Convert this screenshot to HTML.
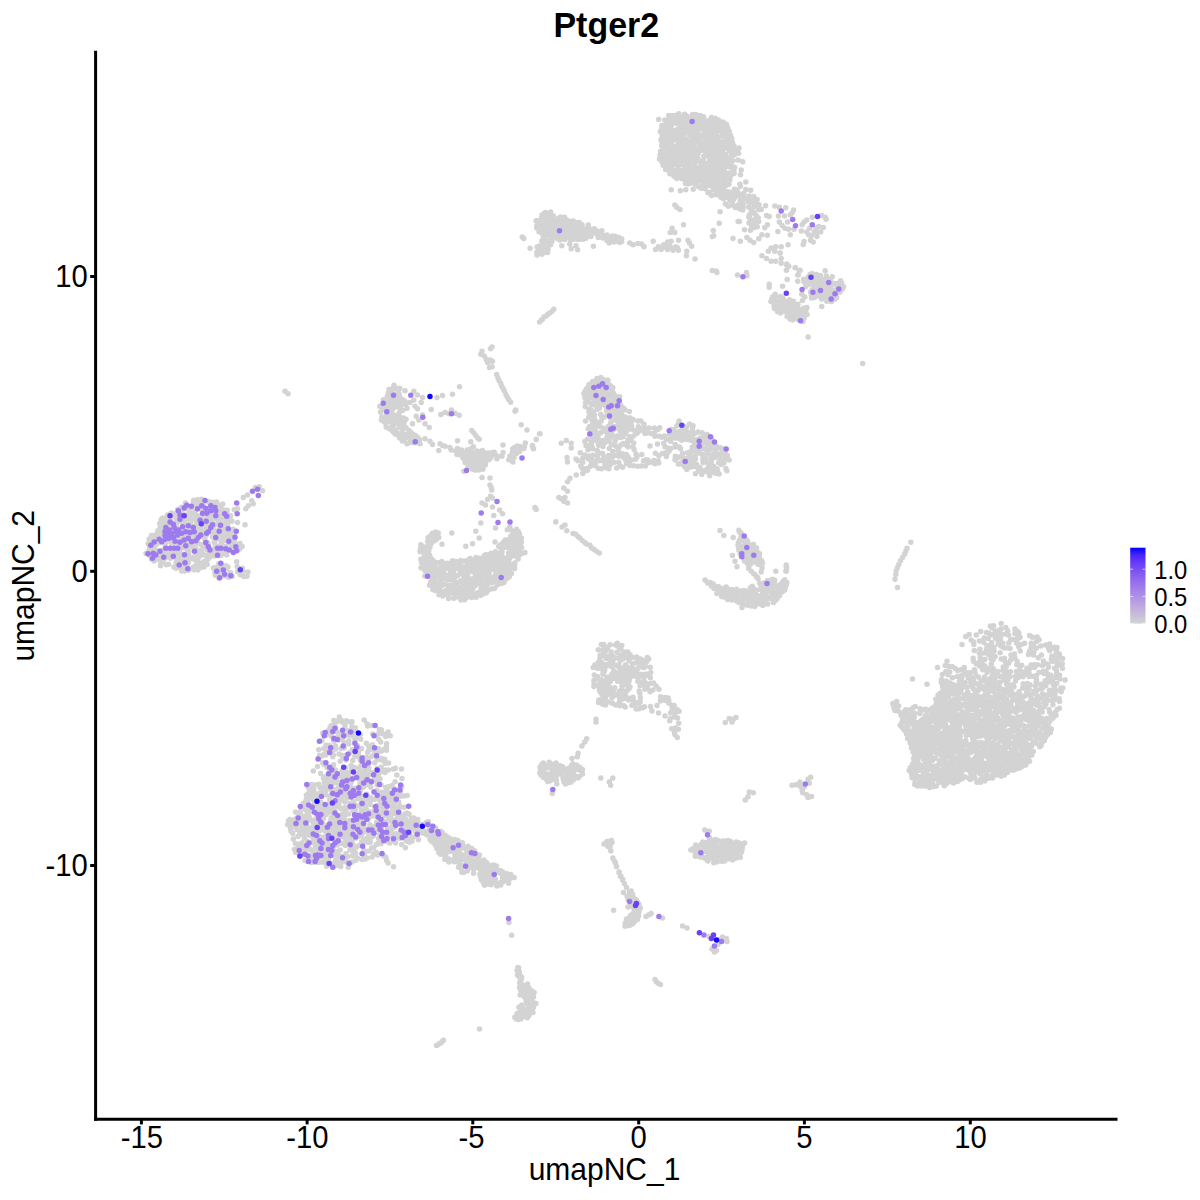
<!DOCTYPE html>
<html>
<head>
<meta charset="utf-8">
<title>Ptger2</title>
<style>
html,body{margin:0;padding:0;background:#ffffff;}
body{width:1200px;height:1200px;overflow:hidden;}
svg{display:block;}
text{font-family:"Liberation Sans",sans-serif;fill:#000;}
</style>
</head>
<body>
<svg width="1200" height="1200" viewBox="0 0 1200 1200">
<rect x="0" y="0" width="1200" height="1200" fill="#ffffff"/>
<defs>
<linearGradient id="cb" x1="0" y1="1" x2="0" y2="0">
<stop offset="0" stop-color="#d3d3d3"/>
<stop offset="0.2" stop-color="#c1aede"/>
<stop offset="0.4" stop-color="#aa89e7"/>
<stop offset="0.6" stop-color="#8e65f0"/>
<stop offset="0.8" stop-color="#673df8"/>
<stop offset="0.9" stop-color="#4926fb"/>
<stop offset="1" stop-color="#0000ff"/>
</linearGradient>
</defs>
<path d="M177.7 509.4h0M209.8 503.6h0M198.5 525.2h0M151.5 535.5h0M187.6 559.0h0M202.6 527.4h0M230.2 519.6h0M176.2 558.2h0M163.6 541.0h0M208.7 525.6h0M199.7 502.9h0M212.7 529.7h0M176.7 541.3h0M190.4 520.3h0M223.9 549.6h0M169.8 540.5h0M197.5 562.5h0M217.6 519.4h0M186.9 553.9h0M160.8 534.2h0M149.7 547.3h0M221.0 540.4h0M231.9 521.3h0M214.2 541.9h0M202.9 531.8h0M192.5 547.0h0M151.8 549.8h0M226.7 519.2h0M183.8 547.4h0M151.6 554.7h0M184.3 562.2h0M199.9 563.1h0M173.2 528.8h0M181.1 563.2h0M168.8 533.9h0M203.8 517.6h0M182.1 539.9h0M239.6 549.0h0M196.5 543.6h0M212.3 502.3h0M184.4 527.6h0M156.0 544.8h0M206.2 509.2h0M170.6 523.8h0M181.6 507.3h0M191.7 533.8h0M179.5 517.7h0M227.3 510.2h0M197.8 509.1h0M199.2 500.3h0M197.8 570.1h0M230.7 549.4h0M162.3 554.9h0M198.2 555.5h0M178.3 514.7h0M226.3 552.6h0M168.1 536.3h0M171.3 549.1h0M167.5 515.0h0M207.2 564.4h0M228.5 533.5h0M210.0 557.0h0M154.2 546.8h0M219.6 533.4h0M178.5 557.1h0M185.3 567.8h0M217.1 510.8h0M160.2 558.9h0M242.2 546.5h0M180.3 538.6h0M197.6 566.8h0M188.5 562.3h0M227.1 513.8h0M170.6 519.8h0M180.6 531.9h0M203.2 564.6h0M187.2 565.6h0M195.2 537.3h0M197.3 499.7h0M189.1 511.8h0M162.8 533.1h0M217.1 539.1h0M177.9 536.3h0M200.5 555.8h0M156.3 539.4h0M221.8 535.6h0M206.1 535.4h0M196.2 549.1h0M190.3 537.4h0M192.8 567.4h0M200.9 567.5h0M157.8 530.8h0M161.0 550.8h0M210.8 508.8h0M185.0 534.1h0M161.7 530.0h0M196.5 523.2h0M165.1 521.7h0M200.3 530.6h0M149.7 555.5h0M160.5 565.7h0M201.9 549.7h0M154.1 561.1h0M190.5 523.2h0M197.6 515.8h0M176.5 520.7h0M220.5 519.6h0M195.0 511.4h0M226.4 530.0h0M194.5 559.5h0M179.5 559.4h0M215.3 545.0h0M185.6 523.8h0M152.8 552.7h0M231.4 547.5h0M173.6 516.1h0M174.7 532.0h0M176.3 524.5h0M165.6 535.3h0M175.8 515.4h0M203.4 537.1h0M219.6 546.6h0M184.1 522.2h0M233.5 544.3h0M159.5 536.7h0M213.0 549.2h0M156.2 559.6h0M200.8 544.4h0M207.4 548.2h0M224.3 553.2h0M218.3 516.8h0M217.6 513.4h0M194.4 526.4h0M221.3 543.6h0M201.7 499.2h0M212.3 519.7h0M196.6 532.4h0M191.7 507.0h0M190.0 518.0h0M166.6 541.0h0M226.5 535.6h0M233.0 549.9h0M168.6 564.2h0M193.6 500.2h0M159.7 523.6h0M146.0 553.4h0M236.9 550.6h0M182.4 527.1h0M181.3 529.7h0M173.9 566.9h0M170.4 517.8h0M182.5 568.5h0M216.6 502.0h0M217.8 531.4h0M175.1 552.5h0M210.3 520.4h0M166.3 564.8h0M194.7 514.5h0M190.1 508.6h0M219.5 528.6h0M186.5 536.8h0M185.1 531.0h0M149.0 550.4h0M233.9 533.0h0M209.5 554.4h0M197.4 541.1h0M184.0 514.7h0M240.1 545.6h0M187.1 517.2h0M179.1 529.2h0M213.0 512.9h0M167.6 554.1h0M167.8 528.9h0M160.2 527.2h0M211.2 526.1h0M173.3 524.1h0M182.5 565.8h0M164.8 525.0h0M240.0 543.6h0M177.0 518.5h0M236.0 544.8h0M183.8 516.7h0M188.1 534.5h0M226.7 555.0h0M205.5 522.4h0M222.8 504.1h0M165.2 553.5h0M149.2 538.9h0M155.3 534.9h0M215.6 531.1h0M201.6 525.7h0M160.9 563.2h0M202.7 522.3h0M184.8 571.1h0M225.3 546.2h0M192.5 558.4h0M231.0 531.3h0M171.4 555.4h0M204.5 543.8h0M167.2 525.4h0M170.9 542.3h0M209.9 513.3h0M176.5 513.2h0M224.0 538.5h0M184.7 538.7h0M186.1 519.1h0M176.1 568.2h0M181.6 512.8h0M182.3 535.3h0M193.3 502.2h0M223.1 514.6h0M185.6 560.4h0M196.8 526.5h0M204.8 538.7h0M207.5 520.8h0M187.1 541.1h0M187.7 546.6h0M189.8 530.5h0M148.1 543.7h0M220.9 555.5h0M196.0 501.3h0M218.0 555.4h0M220.2 510.0h0M195.2 565.8h0M166.3 517.6h0M157.1 537.3h0M231.7 539.0h0M224.3 517.7h0M181.3 554.4h0M226.4 516.9h0M203.4 547.0h0M206.4 530.0h0M203.8 513.3h0M207.2 533.2h0M209.3 530.9h0M165.5 542.9h0M178.8 553.3h0M215.8 517.8h0M171.9 545.4h0M171.4 515.6h0M219.2 522.3h0M188.8 551.5h0M179.7 508.7h0M214.4 552.4h0M152.3 541.6h0M181.6 558.3h0M208.2 558.8h0M220.3 513.4h0M173.6 550.8h0M182.0 521.9h0M229.6 543.7h0M188.8 555.0h0M179.9 550.0h0M194.2 556.8h0M173.7 514.1h0M214.6 534.9h0M153.8 556.1h0M214.4 556.0h0M234.5 535.1h0M210.9 552.7h0M165.1 545.1h0M185.1 556.3h0M159.8 542.6h0M202.3 553.3h0M187.2 515.1h0M221.9 549.7h0M176.6 544.4h0M207.7 516.7h0M187.5 531.7h0M222.4 526.8h0M194.0 569.8h0M199.0 550.9h0M166.5 548.5h0M184.4 554.3h0M187.2 549.5h0M167.4 557.1h0M158.5 555.3h0M192.0 539.6h0M180.6 545.2h0M199.7 507.5h0M227.8 524.3h0M151.4 559.0h0M210.3 516.7h0M205.7 555.6h0M198.0 552.7h0M200.4 517.7h0M194.2 534.9h0M208.5 545.0h0M179.1 561.5h0M187.4 539.0h0M227.2 527.9h0M195.4 518.3h0M178.4 521.6h0M206.5 544.3h0M211.4 531.9h0M220.8 505.8h0M175.5 529.3h0M151.2 540.0h0M225.5 540.5h0M204.0 567.1h0M186.4 505.8h0M217.6 504.5h0M207.6 550.3h0M162.2 561.5h0M160.1 556.8h0M201.6 519.8h0M178.5 542.8h0M191.6 513.5h0M170.9 553.4h0M223.7 532.0h0M232.9 536.6h0M192.7 541.6h0M163.6 549.7h0M223.3 509.8h0M231.0 534.0h0M222.5 529.6h0M204.6 527.5h0M177.1 564.6h0M192.8 519.3h0M171.2 513.1h0M181.7 571.0h0M225.2 523.3h0M164.1 530.3h0M202.0 508.5h0M164.1 559.3h0M181.9 510.3h0M182.3 542.0h0M157.7 550.7h0M177.4 550.5h0M170.5 558.3h0M214.9 505.9h0M185.7 508.4h0M204.0 561.5h0M160.3 540.3h0M228.4 536.9h0M222.2 523.2h0M188.7 570.3h0M170.3 529.3h0M238.0 544.8h0M197.0 530.1h0M157.7 541.9h0M172.2 532.5h0M154.5 538.4h0M165.6 550.4h0M230.6 515.8h0M200.6 534.4h0M174.9 555.0h0M180.5 547.9h0M206.4 560.7h0M218.5 552.8h0M195.0 530.9h0M203.0 504.8h0M213.2 526.9h0M180.4 567.8h0M212.4 536.9h0M202.3 562.9h0M189.1 544.1h0M198.0 558.2h0M162.6 521.7h0M196.2 506.4h0M233.2 529.2h0M161.2 519.6h0M196.1 535.4h0M207.8 542.6h0M208.4 501.4h0M176.0 549.0h0M228.6 541.3h0M216.2 524.3h0M162.5 517.9h0M190.1 526.6h0M169.7 526.9h0M176.2 562.5h0M185.5 503.1h0M164.6 519.1h0M211.2 523.4h0M234.3 541.4h0M220.9 564.0h0M219.5 574.3h0M214.9 572.5h0M220.3 571.4h0M218.9 563.7h0M219.2 566.5h0M215.2 575.3h0M218.6 569.7h0M232.2 576.3h0M215.4 567.4h0M226.9 568.8h0M226.1 565.7h0M228.4 575.2h0M213.4 568.0h0M230.7 572.7h0M228.0 567.0h0M221.9 574.7h0M228.7 577.3h0M218.2 572.2h0M224.3 567.0h0M221.4 566.1h0M223.7 570.4h0M219.0 578.3h0M224.4 576.1h0M248.0 571.9h0M243.9 576.5h0M237.6 571.8h0M247.0 576.3h0M240.2 570.4h0M240.2 574.8h0M243.0 571.6h0M237.2 566.4h0M242.3 568.3h0M243.3 497.5h0M247.5 495.0h0M262.5 490.8h0M259.2 486.7h0M251.7 500.8h0M253.3 503.7h0M248.3 505.8h0M245.8 508.8h0M237.5 508.8h0M234.2 509.7h0M237.5 522.5h0M245.0 524.7h0M255.3 487.5h0M236.7 561.7h0M355.0 815.2h0M335.7 851.2h0M313.9 820.0h0M299.3 817.2h0M369.1 780.3h0M366.9 777.3h0M312.8 851.9h0M303.1 847.7h0M322.8 791.3h0M319.2 803.9h0M359.6 806.3h0M344.8 728.4h0M388.0 831.8h0M301.7 842.9h0M311.5 862.5h0M320.7 773.6h0M371.0 749.6h0M311.0 830.1h0M394.9 820.3h0M417.7 819.4h0M314.5 784.9h0M363.2 821.6h0M410.3 838.4h0M313.0 841.1h0M342.6 789.3h0M317.8 852.5h0M338.2 788.1h0M342.0 770.8h0M368.9 767.8h0M381.8 758.6h0M396.4 813.1h0M336.7 800.6h0M332.9 866.8h0M339.1 754.1h0M336.5 737.8h0M350.1 803.3h0M365.0 859.1h0M337.6 834.5h0M355.6 853.3h0M386.5 750.3h0M333.4 830.7h0M344.4 820.0h0M334.4 792.1h0M323.5 787.4h0M373.8 826.8h0M307.4 833.4h0M370.2 801.3h0M323.6 824.9h0M379.6 834.4h0M338.8 739.9h0M302.5 828.2h0M375.7 751.2h0M324.3 782.9h0M316.0 832.1h0M325.0 831.0h0M327.1 767.5h0M383.5 807.7h0M368.9 850.9h0M308.6 828.6h0M311.1 820.6h0M335.2 856.2h0M398.9 821.6h0M358.4 752.4h0M356.0 737.9h0M391.3 793.1h0M411.7 827.9h0M359.0 779.1h0M379.3 799.6h0M410.4 825.9h0M341.8 775.6h0M373.4 774.3h0M294.3 822.3h0M320.3 812.5h0M340.7 825.0h0M361.4 810.0h0M332.7 812.4h0M318.8 810.0h0M389.0 796.3h0M361.8 796.6h0M341.0 843.2h0M322.8 732.9h0M400.5 796.2h0M350.6 789.7h0M341.0 720.0h0M367.7 726.1h0M398.9 810.8h0M344.8 815.4h0M337.0 775.6h0M424.1 825.0h0M381.1 767.2h0M370.8 787.3h0M354.0 852.0h0M356.5 794.7h0M381.7 829.3h0M293.0 820.1h0M395.7 833.8h0M299.8 831.3h0M295.1 820.3h0M324.3 764.7h0M330.2 848.4h0M362.9 773.9h0M356.2 805.6h0M362.4 779.2h0M328.4 824.8h0M350.0 850.1h0M348.4 814.0h0M366.3 838.4h0M382.2 819.4h0M317.1 844.1h0M414.9 821.1h0M342.5 722.3h0M357.3 858.0h0M355.6 848.0h0M319.3 857.2h0M335.8 860.2h0M312.5 836.5h0M398.3 807.4h0M301.0 815.2h0M368.7 770.7h0M380.7 742.1h0M355.0 739.9h0M357.2 798.4h0M358.7 772.8h0M344.2 748.1h0M321.1 849.1h0M319.6 830.8h0M342.7 795.7h0M397.7 824.8h0M384.8 840.5h0M345.4 778.9h0M321.8 828.3h0M354.9 792.5h0M415.2 831.0h0M315.4 811.9h0M388.4 770.1h0M400.3 806.6h0M329.4 862.7h0M322.8 844.1h0M397.7 837.4h0M351.8 768.1h0M337.1 845.1h0M328.5 730.6h0M380.4 839.4h0M325.6 862.2h0M314.0 843.0h0M312.0 860.2h0M349.9 862.2h0M380.4 812.9h0M295.4 843.6h0M365.8 785.0h0M370.1 804.6h0M342.6 830.4h0M326.9 832.6h0M340.9 863.0h0M384.6 759.3h0M331.3 725.4h0M332.5 783.6h0M316.1 854.8h0M405.2 813.7h0M353.6 801.8h0M338.4 856.1h0M327.9 812.6h0M364.6 831.3h0M345.5 839.5h0M376.6 822.0h0M335.0 727.3h0M325.9 845.1h0M381.9 831.4h0M386.5 823.8h0M297.5 844.2h0M334.0 803.3h0M405.5 839.6h0M389.4 805.8h0M383.5 824.5h0M335.5 746.1h0M360.0 783.7h0M386.4 747.1h0M416.9 826.6h0M389.0 812.6h0M337.4 853.3h0M351.4 732.8h0M309.0 834.9h0M366.7 794.2h0M401.7 844.6h0M369.8 774.6h0M404.3 836.2h0M321.6 854.3h0M302.0 806.7h0M377.0 824.3h0M296.8 826.9h0M353.6 777.9h0M378.8 822.0h0M307.3 854.8h0M342.6 836.5h0M376.6 829.5h0M365.6 841.5h0M374.6 807.3h0M364.2 761.3h0M401.6 786.6h0M378.9 748.7h0M364.2 770.6h0M351.5 778.9h0M405.2 825.7h0M329.7 770.0h0M418.6 832.6h0M325.9 755.1h0M333.6 833.8h0M412.6 837.5h0M362.1 815.6h0M327.8 854.4h0M384.1 821.8h0M384.7 749.0h0M370.6 816.6h0M385.2 763.3h0M330.0 779.2h0M350.0 827.5h0M314.1 854.2h0M380.2 806.1h0M341.3 816.0h0M338.5 826.6h0M338.9 796.4h0M322.3 837.7h0M341.0 833.0h0M353.8 848.9h0M380.8 843.8h0M349.3 735.2h0M324.7 857.1h0M351.1 765.4h0M380.7 772.0h0M379.3 795.2h0M353.6 829.3h0M320.3 792.8h0M332.7 778.9h0M310.9 805.9h0M325.2 859.8h0M321.7 816.9h0M298.0 853.1h0M312.9 822.0h0M391.7 811.7h0M354.3 819.9h0M318.7 749.8h0M344.5 781.0h0M348.9 743.9h0M289.8 819.6h0M323.4 841.6h0M370.3 747.3h0M362.7 827.1h0M360.9 765.8h0M354.8 756.4h0M300.2 811.7h0M324.4 837.1h0M399.6 838.6h0M376.6 753.8h0M347.0 798.0h0M291.7 826.9h0M373.9 853.7h0M331.2 817.5h0M358.7 796.2h0M381.5 750.9h0M354.5 825.1h0M377.0 759.5h0M374.6 762.7h0M393.1 833.9h0M310.4 797.8h0M395.1 781.7h0M328.0 787.7h0M314.6 862.3h0M322.2 755.9h0M406.8 841.2h0M338.9 774.0h0M340.6 734.0h0M321.7 856.4h0M393.6 840.3h0M419.5 829.9h0M296.9 829.4h0M376.4 852.6h0M414.0 828.3h0M360.4 790.5h0M411.3 818.0h0M348.2 825.8h0M348.4 774.9h0M313.6 800.0h0M307.6 812.8h0M347.0 808.4h0M326.2 780.9h0M353.3 731.3h0M335.2 825.8h0M315.8 805.9h0M392.8 825.0h0M349.7 730.4h0M345.1 810.8h0M331.8 793.6h0M355.8 860.2h0M344.1 770.9h0M336.9 821.8h0M308.8 848.1h0M407.3 837.0h0M364.7 778.2h0M303.6 853.1h0M354.5 767.6h0M373.1 836.2h0M339.5 776.0h0M324.5 828.3h0M364.9 856.8h0M338.1 865.4h0M342.4 755.6h0M386.7 743.8h0M349.2 836.9h0M400.3 836.2h0M331.9 774.3h0M324.3 809.7h0M299.6 834.9h0M390.2 815.4h0M356.9 826.5h0M379.5 759.4h0M351.6 847.9h0M304.0 830.6h0M377.0 774.3h0M352.8 788.3h0M313.5 793.0h0M310.4 858.0h0M400.8 820.5h0M320.0 787.4h0M344.4 742.7h0M339.1 801.1h0M341.6 800.1h0M316.3 794.1h0M405.2 818.5h0M345.9 853.8h0M332.9 863.5h0M375.1 816.2h0M389.6 800.7h0M308.4 806.3h0M309.9 793.4h0M366.3 779.7h0M318.6 818.7h0M372.4 744.7h0M321.8 740.7h0M333.0 854.9h0M304.6 845.5h0M309.4 811.9h0M358.7 768.0h0M358.1 791.2h0M381.7 792.3h0M328.4 858.6h0M305.2 821.0h0M293.7 825.5h0M388.3 734.8h0M315.0 795.8h0M358.2 793.5h0M397.3 795.6h0M340.2 761.3h0M387.1 841.1h0M351.0 771.5h0M338.0 831.5h0M397.8 816.3h0M325.3 791.0h0M349.2 777.4h0M383.0 811.8h0M378.1 808.4h0M352.4 749.5h0M339.3 782.8h0M334.6 810.3h0M346.1 862.0h0M381.0 784.8h0M320.1 836.8h0M318.3 862.6h0M355.4 810.6h0M330.8 820.0h0M318.6 784.3h0M367.1 831.2h0M403.1 816.1h0M403.9 796.1h0M404.3 821.5h0M375.2 735.6h0M373.6 847.7h0M385.8 787.5h0M326.9 830.0h0M322.2 822.4h0M339.2 794.4h0M291.1 831.3h0M380.0 778.7h0M309.0 856.2h0M358.7 836.4h0M376.8 790.3h0M368.8 750.3h0M372.0 812.0h0M345.3 794.4h0M318.5 848.4h0M368.7 746.1h0M363.1 783.8h0M292.7 833.4h0M330.5 827.3h0M368.0 815.4h0M364.9 828.2h0M322.6 762.7h0M339.7 836.6h0M302.6 822.8h0M395.6 843.0h0M380.4 802.0h0M376.3 844.8h0M387.7 827.5h0M377.8 816.7h0M333.1 807.7h0M305.4 818.7h0M364.2 839.5h0M341.3 783.2h0M378.3 843.2h0M349.4 832.7h0M308.8 795.9h0M320.9 802.2h0M369.9 824.8h0M340.2 736.5h0M346.0 755.4h0M371.5 847.9h0M296.3 822.2h0M357.3 745.6h0M327.0 805.9h0M326.0 814.5h0M400.2 792.3h0M298.5 847.9h0M352.5 825.3h0M380.4 733.1h0M352.9 844.2h0M325.0 777.0h0M319.5 755.6h0M301.4 824.7h0M358.3 754.6h0M363.4 757.5h0M314.3 824.5h0M350.1 787.2h0M399.0 812.9h0M340.2 791.7h0M394.5 810.6h0M354.7 813.3h0M386.6 860.5h0M332.5 849.9h0M378.6 838.4h0M322.1 795.4h0M336.1 838.8h0M333.7 740.9h0M330.1 823.3h0M304.5 838.5h0M307.5 841.4h0M317.9 859.4h0M409.5 842.3h0M304.5 835.1h0M330.5 732.2h0M381.4 730.0h0M345.0 785.3h0M387.9 836.0h0M385.8 736.6h0M317.5 766.5h0M409.0 813.9h0M358.0 833.6h0M348.2 867.2h0M327.9 784.8h0M393.3 788.2h0M315.0 838.3h0M336.8 780.6h0M363.8 781.7h0M296.7 818.3h0M340.9 856.3h0M379.5 751.3h0M350.1 752.6h0M382.0 797.9h0M319.8 844.8h0M388.6 762.9h0M340.7 866.5h0M364.1 776.1h0M323.8 818.0h0M377.0 784.4h0M371.5 827.5h0M336.4 827.7h0M311.7 828.0h0M392.9 822.5h0M332.5 747.3h0M325.7 749.4h0M322.6 804.8h0M330.3 796.9h0M398.8 802.3h0M357.5 817.9h0M325.9 735.1h0M392.9 808.2h0M329.7 799.8h0M349.1 807.3h0M413.8 817.9h0M405.8 828.0h0M385.3 791.9h0M305.8 849.8h0M333.6 764.7h0M390.1 832.1h0M365.5 807.4h0M393.9 803.9h0M347.3 781.1h0M366.3 772.0h0M295.6 852.3h0M399.5 788.4h0M388.1 786.8h0M401.3 818.0h0M390.2 735.7h0M349.2 840.3h0M372.7 734.1h0M375.1 813.8h0M366.3 743.2h0M334.1 777.1h0M347.3 856.7h0M361.5 748.6h0M334.7 820.4h0M287.7 824.8h0M317.1 841.8h0M333.4 754.9h0M361.7 841.7h0M393.4 768.9h0M307.5 808.4h0M407.2 821.5h0M384.0 837.4h0M309.2 817.0h0M344.0 736.5h0M365.0 800.8h0M352.2 840.1h0M408.7 832.3h0M300.0 856.4h0M362.2 833.8h0M355.9 838.1h0M411.5 820.9h0M413.7 825.3h0M332.7 756.8h0M422.0 827.2h0M352.7 760.6h0M353.0 810.5h0M370.3 842.2h0M339.0 805.3h0M387.1 816.0h0M385.4 770.0h0M344.9 801.9h0M315.4 847.2h0M363.0 804.3h0M370.6 782.2h0M371.7 772.5h0M313.5 787.5h0M365.7 767.0h0M342.5 859.3h0M330.5 789.4h0M374.6 799.3h0M329.4 809.5h0M361.1 781.0h0M416.6 828.6h0M335.3 770.1h0M300.4 844.7h0M345.8 834.0h0M357.2 823.5h0M395.4 768.2h0M330.9 845.6h0M331.2 736.0h0M316.3 826.5h0M342.9 758.0h0M377.1 805.8h0M341.2 748.4h0M323.9 754.2h0M375.8 811.1h0M368.2 819.2h0M316.9 798.2h0M370.6 797.4h0M321.2 806.4h0M387.3 791.3h0M337.7 721.2h0M362.3 764.0h0M355.5 728.0h0M362.0 776.1h0M318.7 758.3h0M317.0 837.7h0M310.4 849.6h0M355.0 788.2h0M294.4 849.2h0M307.2 825.9h0M326.7 866.3h0M360.0 798.9h0M369.0 784.8h0M305.6 809.7h0M366.5 809.4h0M360.2 734.6h0M379.3 729.4h0M337.6 863.1h0M297.4 812.9h0M349.5 820.6h0M360.2 759.9h0M401.5 769.0h0M409.2 823.9h0M308.4 787.5h0M298.8 823.8h0M333.3 817.5h0M309.6 790.5h0M409.8 834.9h0M386.4 811.2h0M359.3 824.7h0M400.7 815.8h0M364.1 850.4h0M357.4 756.5h0M326.3 795.1h0M378.3 776.2h0M333.2 847.2h0M362.4 812.7h0M352.1 862.1h0M307.9 794.0h0M378.8 739.4h0M346.7 831.6h0M306.0 800.3h0M329.6 782.8h0M345.3 824.4h0M379.2 782.2h0M307.7 820.5h0M316.8 815.3h0M333.2 729.4h0M313.7 858.5h0M340.6 808.5h0M318.2 823.4h0M394.9 808.1h0M306.2 831.3h0M345.1 807.5h0M363.3 787.2h0M337.1 732.1h0M313.2 830.6h0M334.6 795.1h0M342.5 780.8h0M407.2 795.6h0M330.5 854.1h0M346.0 760.1h0M362.0 818.2h0M339.0 861.3h0M366.9 797.0h0M332.5 750.6h0M368.1 842.4h0M329.7 831.1h0M333.7 789.5h0M323.9 748.5h0M390.8 818.7h0M353.2 729.1h0M383.2 734.0h0M322.5 862.2h0M392.9 837.5h0M358.6 845.8h0M326.0 745.2h0M330.1 727.4h0M293.3 839.0h0M393.7 798.0h0M331.5 770.9h0M385.9 857.2h0M340.2 850.0h0M416.4 833.2h0M339.3 718.4h0M305.9 816.1h0M401.7 830.6h0M416.9 836.7h0M334.7 723.7h0M388.5 820.8h0M345.6 768.0h0M360.0 829.9h0M303.3 803.6h0M377.6 854.9h0M335.6 748.9h0M346.3 720.8h0M372.4 756.1h0M353.2 736.2h0M377.0 768.6h0M361.4 802.6h0M385.2 800.3h0M352.0 726.8h0M336.9 796.5h0M344.5 792.3h0M393.4 795.8h0M372.9 830.1h0M392.0 785.6h0M366.1 757.4h0M350.9 782.7h0M383.3 855.7h0M361.1 835.7h0M327.6 776.7h0M352.0 721.7h0M334.8 815.6h0M384.2 795.7h0M351.4 792.6h0M319.7 822.0h0M328.7 804.8h0M311.4 784.6h0M290.6 828.8h0M374.7 772.7h0M347.6 784.2h0M353.4 846.6h0M361.5 771.1h0M404.4 832.5h0M354.3 790.6h0M340.2 819.2h0M396.9 775.0h0M366.6 829.2h0M389.7 843.1h0M346.5 772.8h0M345.4 845.6h0M366.1 814.5h0M322.6 846.2h0M365.0 805.1h0M364.6 854.5h0M375.1 779.7h0M361.8 859.5h0M337.2 818.6h0M417.7 821.8h0M345.0 725.8h0M393.4 813.7h0M359.3 816.5h0M343.3 843.9h0M335.9 782.8h0M313.8 789.6h0M368.8 834.3h0M388.9 829.9h0M419.3 826.3h0M301.3 821.0h0M402.5 824.0h0M391.6 829.2h0M310.8 787.4h0M348.8 794.7h0M348.4 733.3h0M328.3 860.8h0M297.9 836.5h0M327.3 843.5h0M340.3 821.9h0M384.2 832.5h0M384.1 815.2h0M305.0 860.4h0M392.9 799.8h0M303.8 817.0h0M374.4 754.2h0M367.2 723.9h0M352.3 855.8h0M290.9 821.9h0M361.8 844.4h0M324.8 853.9h0M370.0 839.1h0M360.7 739.3h0M374.7 777.2h0M333.8 720.5h0M344.7 775.0h0M402.0 778.6h0M371.8 725.6h0M327.8 850.6h0M323.5 778.3h0M337.3 793.5h0M367.6 752.4h0M332.9 821.7h0M353.1 836.4h0M329.2 745.6h0M349.9 722.0h0M369.1 758.3h0M368.2 811.7h0M396.7 789.9h0M337.7 840.9h0M342.4 813.9h0M404.3 807.3h0M345.2 734.7h0M354.0 804.0h0M407.2 813.0h0M347.3 841.7h0M358.5 820.7h0M310.8 808.3h0M313.3 826.3h0M304.8 806.6h0M391.2 821.1h0M307.0 861.2h0M348.8 740.8h0M356.4 775.9h0M345.0 788.4h0M378.3 734.0h0M319.6 840.1h0M342.3 739.7h0M395.7 796.7h0M305.0 825.8h0M367.0 857.9h0M371.2 834.6h0M394.8 827.3h0M373.0 780.4h0M400.0 832.4h0M310.3 832.6h0M324.3 849.0h0M362.5 800.5h0M323.8 813.1h0M336.9 805.9h0M372.5 799.3h0M308.1 799.9h0M306.5 796.1h0M372.1 857.0h0M384.8 803.2h0M385.0 772.5h0M382.9 760.6h0M314.4 803.7h0M329.2 773.6h0M439.0 834.4h0M430.0 839.2h0M432.8 837.0h0M460.1 849.0h0M485.3 872.3h0M429.6 834.6h0M426.9 834.7h0M460.4 860.8h0M490.5 865.4h0M462.3 842.7h0M476.5 864.5h0M466.8 853.0h0M483.8 860.1h0M466.6 858.4h0M465.8 865.2h0M487.9 871.5h0M448.5 846.5h0M488.9 877.4h0M449.6 851.5h0M506.4 873.5h0M483.5 880.6h0M437.0 837.3h0M463.0 854.9h0M453.8 844.0h0M494.9 882.3h0M463.5 858.2h0M493.7 875.3h0M486.4 874.0h0M494.5 869.3h0M498.2 884.5h0M458.6 867.2h0M441.8 851.6h0M457.8 850.4h0M459.5 845.7h0M479.9 873.9h0M472.1 865.0h0M470.8 867.0h0M470.9 853.4h0M459.0 843.1h0M474.5 850.8h0M506.8 880.3h0M469.9 850.2h0M450.0 838.4h0M457.1 857.5h0M508.9 876.1h0M447.5 839.5h0M429.7 825.5h0M448.4 858.8h0M481.7 872.1h0M500.7 885.0h0M454.6 839.4h0M451.9 860.0h0M476.5 860.4h0M491.8 872.8h0M479.7 869.0h0M478.4 857.8h0M444.5 848.7h0M445.8 855.3h0M445.2 852.4h0M434.6 834.0h0M467.4 870.8h0M453.1 851.0h0M500.4 873.3h0M436.8 848.4h0M454.9 853.9h0M429.4 829.7h0M438.8 852.5h0M483.0 869.0h0M473.3 861.5h0M434.9 837.9h0M502.4 871.7h0M459.2 863.8h0M481.0 861.3h0M487.6 880.6h0M479.0 863.3h0M500.4 870.5h0M514.2 877.4h0M506.7 877.3h0M426.2 831.7h0M496.5 869.2h0M495.6 872.1h0M423.0 833.1h0M463.9 872.3h0M439.6 844.5h0M461.2 868.3h0M493.5 865.1h0M488.8 874.0h0M463.0 865.7h0M477.4 855.6h0M429.7 827.6h0M502.6 877.7h0M428.5 821.8h0M435.7 827.9h0M473.6 873.3h0M461.0 847.2h0M491.2 878.0h0M454.3 861.8h0M445.4 846.8h0M487.2 866.6h0M502.8 882.1h0M447.1 836.8h0M433.1 842.2h0M475.5 852.9h0M440.8 838.2h0M481.0 866.0h0M443.6 840.4h0M488.2 883.9h0M491.0 884.7h0M504.3 875.7h0M440.6 831.3h0M437.8 840.4h0M472.1 851.4h0M475.4 867.5h0M441.2 835.3h0M441.1 842.3h0M440.4 854.2h0M429.5 832.2h0M444.9 835.3h0M465.3 848.5h0M511.3 877.7h0M443.4 854.4h0M422.3 827.5h0M447.0 843.3h0M435.3 845.3h0M426.2 822.5h0M485.5 881.0h0M485.8 878.3h0M449.2 840.8h0M422.6 824.5h0M456.5 842.8h0M490.9 867.6h0M455.5 847.9h0M483.2 882.6h0M496.4 865.9h0M439.4 836.4h0M459.5 855.8h0M481.3 879.7h0M455.1 856.3h0M442.2 848.6h0M447.1 851.1h0M444.8 859.5h0M504.0 880.0h0M436.1 841.9h0M424.9 833.6h0M468.1 846.2h0M455.7 845.5h0M495.3 879.1h0M500.3 882.5h0M466.0 861.2h0M443.1 843.2h0M496.8 885.9h0M478.3 867.5h0M446.1 857.7h0M431.1 840.9h0M442.1 832.6h0M471.7 848.5h0M509.1 879.5h0M479.4 854.9h0M473.6 869.1h0M462.9 845.4h0M448.9 861.9h0M483.2 863.7h0M467.5 850.4h0M449.1 844.5h0M442.8 837.0h0M468.7 854.0h0M438.0 832.5h0M451.1 842.8h0M469.6 863.3h0M490.4 881.1h0M461.6 858.9h0M486.6 862.4h0M471.7 859.9h0M490.6 875.8h0M473.0 855.6h0M497.7 872.0h0M482.3 876.9h0M508.6 883.2h0M480.3 876.6h0M510.7 874.6h0M470.8 857.2h0M439.4 849.0h0M457.5 859.9h0M434.8 830.4h0M459.4 853.5h0M457.9 840.6h0M393.5 866.8h0M388.1 862.9h0M405.4 847.8h0M411.9 841.3h0M418.4 839.8h0M484.5 885.2h0M461.8 872.2h0M339.3 716.9h0M364.2 719.9h0M388.1 732.1h0M313.3 771.1h0M306.4 795.3h0M288.4 820.7h0M295.6 812.0h0M722.7 164.6h0M671.7 150.6h0M714.5 159.3h0M727.6 136.2h0M662.0 161.8h0M729.1 173.1h0M718.2 172.9h0M722.4 142.3h0M711.8 147.3h0M734.1 173.4h0M693.2 167.4h0M703.4 160.5h0M678.2 167.1h0M728.9 161.4h0M716.7 161.9h0M669.6 132.8h0M703.1 171.0h0M690.6 166.5h0M684.1 137.3h0M671.3 144.9h0M703.0 121.6h0M714.6 139.8h0M730.5 135.2h0M687.5 175.9h0M709.7 147.0h0M709.2 165.4h0M683.6 128.1h0M708.7 156.8h0M662.0 125.6h0M691.5 120.1h0M698.7 143.5h0M681.1 170.7h0M715.2 118.3h0M705.0 188.7h0M676.2 130.1h0M683.5 131.2h0M696.9 175.4h0M678.8 113.7h0M724.5 123.5h0M677.9 136.5h0M719.7 185.6h0M728.8 178.3h0M723.4 149.4h0M662.7 131.2h0M669.2 122.1h0M668.7 137.7h0M662.2 135.8h0M724.2 131.7h0M697.5 178.4h0M700.1 115.5h0M726.9 174.2h0M674.7 115.5h0M712.6 167.9h0M672.3 115.8h0M702.6 136.8h0M684.9 179.7h0M702.1 186.3h0M695.0 163.0h0M681.4 146.1h0M697.7 122.0h0M711.5 117.4h0M677.8 158.0h0M720.7 169.3h0M687.3 126.0h0M716.1 179.8h0M664.6 145.3h0M700.5 166.3h0M673.9 176.2h0M705.2 174.4h0M731.3 165.6h0M710.0 136.0h0M679.4 141.8h0M720.7 158.9h0M708.6 169.5h0M689.4 153.3h0M671.9 141.4h0M690.2 170.1h0M670.5 128.4h0M707.9 149.5h0M692.4 176.9h0M658.7 119.4h0M673.1 135.1h0M684.6 114.2h0M719.5 142.1h0M680.8 129.1h0M696.3 124.7h0M683.4 121.3h0M673.0 153.6h0M690.1 135.7h0M692.6 129.5h0M676.8 178.4h0M687.1 149.9h0M660.3 131.8h0M721.9 186.1h0M682.9 174.7h0M681.5 157.7h0M698.0 158.4h0M719.5 153.3h0M696.1 167.7h0M694.9 157.4h0M681.4 124.9h0M672.8 157.9h0M715.8 186.3h0M687.7 161.4h0M711.1 174.2h0M713.5 176.1h0M683.3 160.7h0M724.6 171.4h0M712.0 124.4h0M709.1 122.4h0M703.8 183.6h0M686.2 130.0h0M693.0 135.1h0M724.7 181.9h0M732.4 142.7h0M725.6 185.7h0M706.8 172.0h0M684.5 149.6h0M665.2 125.2h0M719.6 136.9h0M713.1 135.1h0M665.0 164.4h0M678.1 128.9h0M694.0 151.2h0M726.9 166.6h0M691.9 147.0h0M704.5 123.1h0M730.7 159.3h0M719.6 130.3h0M686.7 115.8h0M717.0 129.9h0M718.1 156.5h0M677.0 116.0h0M698.3 172.5h0M669.1 146.7h0M700.0 124.8h0M673.9 160.0h0M671.7 124.9h0M702.5 144.7h0M694.7 137.2h0M731.5 145.0h0M661.7 141.8h0M724.0 146.4h0M675.8 140.1h0M682.8 164.6h0M672.0 166.3h0M727.1 162.8h0M705.8 140.5h0M693.6 119.7h0M699.9 150.8h0M664.8 120.1h0M694.1 140.4h0M681.2 144.1h0M715.4 136.6h0M675.5 149.2h0M669.6 155.9h0M720.7 176.4h0M687.8 164.1h0M667.0 139.9h0M704.1 133.2h0M726.1 147.7h0M718.1 168.5h0M733.8 152.7h0M720.9 166.4h0M716.1 174.5h0M707.6 185.6h0M701.1 179.5h0M700.9 164.4h0M688.1 118.7h0M726.8 131.1h0M676.9 154.0h0M679.7 154.9h0M680.0 122.4h0M712.0 133.3h0M727.7 141.6h0M700.1 161.1h0M689.8 141.0h0M726.2 133.1h0M694.9 129.9h0M710.2 144.3h0M697.5 119.8h0M733.9 145.8h0M681.0 173.8h0M691.0 122.1h0M702.6 134.7h0M730.5 149.3h0M703.1 127.8h0M675.3 172.7h0M732.8 150.0h0M733.0 147.7h0M685.5 183.5h0M698.6 186.8h0M675.4 146.5h0M729.2 131.3h0M730.4 176.3h0M667.9 162.5h0M685.6 138.9h0M682.4 119.4h0M720.7 171.8h0M660.1 155.0h0M682.9 153.3h0M675.7 170.4h0M687.0 179.2h0M670.1 153.3h0M675.7 162.4h0M692.7 180.0h0M689.1 124.3h0M705.5 151.9h0M694.1 161.1h0M689.6 149.4h0M707.2 166.7h0M712.8 145.0h0M661.5 129.0h0M706.2 120.8h0M723.2 160.6h0M666.8 143.9h0M687.1 166.3h0M687.9 147.8h0M675.8 134.9h0M664.6 128.2h0M687.4 172.7h0M695.8 179.8h0M679.9 150.6h0M721.4 127.5h0M718.4 120.0h0M713.4 153.3h0M681.7 127.0h0M677.2 132.4h0M677.2 145.4h0M702.4 125.1h0M707.1 144.3h0M715.8 172.5h0M725.3 154.5h0M678.3 176.1h0M702.2 146.8h0M715.2 143.7h0M711.9 140.9h0M696.9 127.6h0M684.8 145.3h0M665.1 137.1h0M697.4 182.1h0M723.8 135.9h0M668.7 119.9h0M715.2 182.8h0M674.8 155.6h0M667.2 154.3h0M693.5 182.7h0M669.6 166.9h0M733.8 170.6h0M674.3 121.8h0M700.0 128.2h0M714.0 123.1h0M729.1 166.3h0M709.0 127.8h0M693.9 124.8h0M705.9 163.4h0M729.9 180.0h0M703.6 116.8h0M666.6 123.1h0M672.1 118.7h0M716.9 152.3h0M693.8 154.0h0M681.7 137.8h0M669.7 135.3h0M660.5 151.3h0M723.7 168.4h0M694.2 122.8h0M725.9 161.0h0M697.0 136.0h0M692.7 117.5h0M699.9 120.6h0M731.8 138.4h0M669.5 164.5h0M695.1 133.7h0M703.8 130.3h0M678.7 119.5h0M692.9 158.8h0M705.6 149.3h0M689.7 177.8h0M727.7 138.6h0M690.6 174.1h0M714.8 151.3h0M677.9 121.4h0M704.4 168.0h0M702.4 175.4h0M684.7 124.9h0M712.0 127.4h0M732.8 160.8h0M691.2 151.2h0M685.1 177.1h0M712.0 181.0h0M713.6 157.2h0M710.3 138.1h0M729.4 151.1h0M727.1 144.3h0M698.3 153.6h0M697.4 140.0h0M723.5 184.0h0M659.5 159.1h0M708.7 131.5h0M678.3 171.9h0M723.8 125.9h0M707.3 179.1h0M722.8 121.9h0M664.8 148.6h0M671.3 147.3h0M691.4 160.9h0M686.1 169.0h0M667.5 126.0h0M710.2 162.7h0M728.7 157.9h0M719.6 180.3h0M717.0 140.4h0M697.9 130.8h0M678.5 134.5h0M675.7 137.8h0M703.8 156.3h0M660.4 157.0h0M717.6 149.3h0M681.5 117.2h0M665.0 130.6h0M717.6 123.0h0M691.4 133.2h0M721.8 151.0h0M711.5 130.3h0M735.3 149.6h0M690.0 128.5h0M722.3 132.5h0M684.7 133.7h0M664.9 161.4h0M667.9 158.6h0M706.8 155.6h0M711.3 171.3h0M722.4 155.1h0M667.1 147.3h0M703.6 150.3h0M708.3 175.3h0M681.9 141.7h0M696.1 161.2h0M663.9 157.0h0M717.6 178.5h0M672.6 130.2h0M667.4 131.1h0M675.9 152.1h0M700.4 174.7h0M685.9 152.4h0M715.1 170.6h0M716.2 146.4h0M669.6 126.5h0M715.9 177.1h0M669.8 173.7h0M684.7 159.2h0M677.1 123.4h0M711.7 177.2h0M661.7 146.0h0M668.7 115.4h0M665.7 167.1h0M708.1 139.6h0M690.4 155.9h0M696.8 156.8h0M696.7 138.1h0M689.9 145.3h0M695.9 114.4h0M679.9 162.1h0M721.4 146.7h0M700.1 171.4h0M725.3 157.9h0M717.8 164.6h0M725.6 178.2h0M687.3 141.3h0M704.6 143.8h0M675.1 164.5h0M695.4 172.2h0M685.1 122.8h0M715.5 127.5h0M711.7 160.4h0M725.2 138.6h0M721.7 178.7h0M673.7 150.5h0M689.1 181.9h0M719.4 145.6h0M712.3 149.6h0M731.0 167.6h0M729.3 144.9h0M670.6 138.6h0M705.0 126.6h0M688.9 131.9h0M710.6 185.8h0M724.9 175.7h0M669.2 143.4h0M699.7 135.6h0M693.5 148.7h0M667.7 166.1h0M716.8 132.3h0M698.2 134.2h0M692.5 114.5h0M663.1 165.2h0M717.3 138.1h0M664.7 142.9h0M679.3 139.7h0M681.7 149.1h0M708.6 134.3h0M704.0 164.9h0M684.5 167.6h0M701.4 188.3h0M685.2 117.4h0M712.6 163.2h0M688.3 184.1h0M696.7 148.4h0M689.9 117.5h0M700.4 137.7h0M691.4 182.9h0M669.9 117.5h0M715.2 130.8h0M709.1 152.4h0M670.9 161.6h0M684.2 172.7h0M668.1 170.1h0M671.0 170.2h0M718.0 183.9h0M698.3 170.5h0M704.9 181.7h0M729.7 142.1h0M726.5 124.4h0M666.7 149.3h0M734.6 167.2h0M696.7 150.4h0M685.0 154.4h0M707.5 124.8h0M727.7 127.7h0M662.3 152.4h0M700.5 177.0h0M695.6 184.3h0M673.2 137.7h0M661.0 139.4h0M711.7 156.6h0M705.1 178.1h0M665.6 169.5h0M720.1 174.2h0M731.1 155.5h0M729.0 184.2h0M723.3 174.0h0M680.9 134.5h0M700.3 145.6h0M690.5 158.7h0M716.3 167.3h0M723.8 128.2h0M670.3 157.9h0M681.8 178.6h0M709.4 181.9h0M697.8 116.3h0M695.7 142.3h0M691.9 139.6h0M665.8 132.5h0M722.7 152.8h0M713.1 137.8h0M693.5 144.6h0M718.5 125.1h0M709.7 160.8h0M664.7 139.9h0M705.4 138.1h0M701.1 142.6h0M691.7 125.1h0M734.3 155.1h0M711.8 122.4h0M719.3 162.4h0M685.3 156.6h0M713.7 186.6h0M702.5 181.7h0M718.3 128.3h0M719.0 151.3h0M674.6 118.9h0M710.6 119.8h0M739.0 148.0h0M738.6 153.2h0M738.1 160.1h0M742.7 161.8h0M741.2 170.0h0M740.5 174.8h0M745.8 181.9h0M739.9 184.3h0M740.5 186.2h0M733.6 205.4h0M740.4 200.4h0M726.8 191.7h0M757.1 199.5h0M752.3 208.6h0M720.9 197.2h0M732.3 203.8h0M751.4 210.4h0M725.9 197.3h0M748.5 207.0h0M754.3 206.2h0M739.1 196.0h0M747.4 198.0h0M748.6 202.0h0M734.1 191.2h0M735.5 195.6h0M715.9 194.6h0M758.4 209.7h0M759.0 204.7h0M728.9 192.0h0M743.2 204.0h0M713.8 189.1h0M754.1 198.4h0M752.6 199.7h0M744.4 198.9h0M731.2 196.4h0M725.5 204.1h0M723.5 198.8h0M742.5 197.1h0M711.6 195.6h0M738.3 207.7h0M742.9 207.6h0M743.9 193.5h0M761.3 209.4h0M749.3 196.1h0M753.7 196.4h0M733.3 199.7h0M728.4 206.3h0M718.3 189.6h0M735.3 207.4h0M738.3 193.2h0M742.7 210.1h0M734.5 197.8h0M720.7 192.1h0M723.4 189.4h0M755.2 203.4h0M740.7 205.5h0M730.0 200.5h0M751.0 202.7h0M710.1 192.3h0M708.0 192.7h0M740.1 209.0h0M733.9 193.9h0M742.0 194.2h0M728.8 197.0h0M723.9 194.3h0M737.1 190.1h0M718.8 194.9h0M730.8 193.8h0M738.7 204.4h0M716.2 191.1h0M671.2 189.8h0M680.3 190.8h0M685.8 189.8h0M693.2 189.3h0M674.8 204.9h0M676.7 207.2h0M680.0 209.6h0M720.1 211.8h0M719.2 223.2h0M683.5 224.7h0M713.3 230.5h0M712.4 236.6h0M713.7 235.7h0M750.7 190.2h0M745.8 189.5h0M734.4 189.3h0M753.5 221.3h0M751.8 222.4h0M754.9 219.8h0M754.4 225.3h0M748.7 216.7h0M749.8 214.4h0M754.0 213.0h0M757.2 226.7h0M749.9 218.3h0M758.7 221.6h0M757.2 220.1h0M749.0 223.0h0M751.6 226.9h0M750.3 220.5h0M758.2 217.7h0M756.2 215.8h0M754.3 227.4h0M738.1 221.6h0M739.4 221.6h0M744.5 229.8h0M750.5 230.2h0M765.6 205.8h0M766.5 215.5h0M769.2 216.4h0M767.4 224.7h0M764.7 227.8h0M761.9 234.8h0M767.4 235.3h0M758.8 238.8h0M753.7 242.6h0M750.0 240.2h0M746.9 237.5h0M740.3 241.2h0M733.0 238.4h0M774.8 206.0h0M779.3 207.2h0M785.8 207.8h0M778.4 216.1h0M784.5 216.1h0M779.3 221.9h0M782.1 225.6h0M784.8 228.3h0M787.6 221.9h0M788.5 229.2h0M777.9 231.5h0M793.6 210.0h0M792.2 212.8h0M790.3 215.1h0M794.0 229.2h0M790.3 234.8h0M821.5 215.5h0M825.2 217.3h0M826.1 219.2h0M806.8 220.1h0M804.1 221.9h0M802.2 224.7h0M801.3 231.1h0M806.8 232.0h0M809.6 228.3h0M816.0 228.3h0M818.8 226.5h0M823.3 227.4h0M820.6 232.0h0M816.9 236.6h0M811.4 235.7h0M810.5 240.2h0M813.2 242.1h0M804.1 241.5h0M803.2 244.5h0M812.3 217.3h0M814.2 232.0h0M808.7 234.8h0M816.0 232.9h0M672.1 228.3h0M670.2 232.4h0M674.8 232.4h0M653.2 241.2h0M678.5 240.2h0M688.0 240.2h0M689.5 243.0h0M691.7 246.3h0M686.8 251.2h0M686.4 255.8h0M695.0 259.0h0M667.5 242.1h0M671.2 241.2h0M663.8 244.8h0M658.3 246.7h0M655.6 249.4h0M661.1 249.4h0M667.5 249.4h0M673.0 250.3h0M678.5 250.3h0M675.8 246.7h0M669.3 245.8h0M641.5 243.9h0M644.0 246.7h0M665.7 247.6h0M662.0 246.7h0M672.1 248.1h0M677.6 248.1h0M781.2 246.7h0M788.1 244.8h0M775.7 246.7h0M771.1 248.1h0M768.3 251.2h0M774.8 251.2h0M780.2 253.1h0M761.9 255.8h0M766.5 258.6h0M771.1 261.3h0M775.7 261.3h0M781.2 258.6h0M781.2 263.2h0M786.7 264.1h0M786.6 264.7h0M788.8 266.2h0M786.6 270.1h0M795.1 267.8h0M799.2 271.0h0M797.7 275.1h0M835.1 293.1h0M812.1 273.6h0M816.4 280.5h0M824.4 283.1h0M819.2 281.9h0M808.2 280.8h0M830.4 280.8h0M821.7 281.3h0M829.9 300.0h0M818.9 296.1h0M814.6 294.7h0M814.4 297.6h0M831.2 285.2h0M808.0 277.3h0M817.1 287.5h0M831.5 289.5h0M824.6 291.3h0M825.3 285.6h0M829.9 297.3h0M806.6 284.1h0M831.0 295.3h0M817.0 283.6h0M824.7 294.9h0M803.7 279.3h0M810.6 291.9h0M820.4 275.4h0M826.8 301.2h0M836.6 297.8h0M833.0 296.8h0M839.3 286.3h0M823.2 279.7h0M828.2 285.8h0M834.4 299.5h0M811.4 277.6h0M831.2 292.9h0M811.5 297.9h0M831.4 301.5h0M842.5 289.1h0M810.2 284.3h0M823.6 296.8h0M843.6 286.7h0M841.5 285.5h0M817.2 291.7h0M822.7 289.1h0M804.1 282.1h0M813.0 280.7h0M812.2 289.8h0M840.0 292.0h0M839.2 282.7h0M814.4 289.1h0M835.0 283.4h0M821.3 285.4h0M810.1 274.2h0M836.2 295.5h0M814.9 286.3h0M826.5 281.7h0M828.2 292.9h0M836.3 289.4h0M814.3 277.2h0M810.5 281.0h0M837.2 286.2h0M814.5 283.1h0M819.2 292.4h0M827.0 289.3h0M820.7 295.1h0M841.6 283.0h0M818.1 278.2h0M831.7 282.9h0M821.6 299.0h0M828.3 279.4h0M816.5 274.6h0M827.4 298.4h0M811.3 294.4h0M797.8 281.3h0M800.1 270.2h0M798.3 274.9h0M795.4 267.6h0M825.2 270.8h0M826.3 276.1h0M832.2 276.7h0M840.6 280.8h0M805.9 286.6h0M801.8 294.2h0M804.8 297.1h0M802.4 300.6h0M787.2 279.4h0M782.6 286.2h0M769.2 284.2h0M769.2 287.2h0M821.7 306.4h0M786.3 270.2h0M801.6 309.7h0M787.1 316.5h0M788.6 302.1h0M807.0 314.5h0M798.3 319.4h0M776.5 303.7h0M774.0 306.0h0M793.3 303.4h0M790.8 302.1h0M781.6 307.1h0M787.8 311.1h0M777.0 308.4h0M775.0 299.7h0M795.5 305.8h0M794.6 309.0h0M795.1 312.0h0M789.1 309.3h0M782.4 310.0h0M792.5 319.9h0M787.8 304.5h0M804.1 318.2h0M790.8 308.1h0M806.0 309.9h0M798.1 316.8h0M793.4 301.3h0M798.0 304.3h0M801.0 320.6h0M804.2 311.1h0M797.8 308.4h0M802.8 314.2h0M781.0 299.0h0M785.1 309.0h0M795.5 318.2h0M793.6 316.9h0M774.5 308.5h0M794.8 315.2h0M790.7 305.5h0M800.0 312.1h0M785.2 311.4h0M783.8 300.0h0M780.4 313.1h0M806.9 307.4h0M775.2 294.3h0M803.6 308.2h0M775.5 296.7h0M781.7 303.3h0M802.9 321.5h0M799.5 315.1h0M789.8 313.5h0M777.5 311.5h0M792.7 305.5h0M785.0 305.1h0M797.2 314.2h0M773.1 300.9h0M790.0 316.6h0M790.0 319.1h0M772.8 296.8h0M789.5 299.8h0M782.7 297.7h0M802.3 312.2h0M771.8 299.3h0M783.8 302.7h0M792.1 311.0h0M774.5 303.0h0M780.3 309.5h0M770.9 301.5h0M799.9 317.9h0M777.8 306.0h0M776.8 301.6h0M788.9 306.8h0M780.6 296.5h0M808.1 336.9h0M862.6 363.5h0M557.9 218.7h0M546.2 244.2h0M561.1 222.4h0M557.4 238.6h0M560.4 216.9h0M617.5 239.0h0M551.1 227.8h0M576.8 239.3h0M579.2 222.5h0M541.6 249.3h0M542.6 230.6h0M544.8 239.3h0M550.6 244.8h0M559.8 229.3h0M547.6 252.6h0M586.0 238.2h0M607.0 235.0h0M542.8 246.7h0M571.5 223.7h0M609.9 238.7h0M553.4 237.7h0M581.2 238.7h0M568.1 236.9h0M562.9 231.0h0M576.2 222.8h0M547.6 246.7h0M614.1 242.0h0M595.2 232.3h0M550.6 212.1h0M544.6 220.4h0M596.9 231.0h0M552.9 219.8h0M542.1 215.0h0M559.9 236.6h0M579.1 225.0h0M566.7 219.8h0M539.3 224.9h0M585.6 234.1h0M607.0 240.6h0M561.8 227.2h0M547.6 223.9h0M579.2 228.9h0M587.4 231.9h0M546.1 235.2h0M574.6 237.5h0M576.9 236.6h0M539.5 227.1h0M545.4 212.4h0M553.6 228.5h0M552.7 226.5h0M564.5 217.2h0M588.3 229.9h0M539.0 231.7h0M544.7 224.6h0M602.7 238.1h0M590.9 236.4h0M540.7 229.5h0M578.3 232.0h0M569.7 228.0h0M566.3 232.8h0M549.8 240.2h0M581.0 227.3h0M582.0 224.7h0M588.2 225.0h0M556.3 232.3h0M579.2 239.6h0M555.4 234.7h0M557.7 234.3h0M548.2 226.3h0M546.9 218.9h0M584.1 232.3h0M544.7 233.3h0M604.0 235.5h0M568.4 232.1h0M601.5 232.8h0M616.5 241.0h0M539.2 250.9h0M564.1 236.7h0M542.3 227.1h0M543.7 252.5h0M597.7 235.0h0M547.7 231.4h0M539.5 246.1h0M601.8 230.8h0M542.4 221.3h0M563.3 219.5h0M574.1 225.6h0M551.3 231.8h0M567.5 223.1h0M563.8 227.0h0M612.1 239.2h0M589.6 233.8h0M568.9 234.3h0M550.3 222.7h0M547.9 241.0h0M542.4 233.7h0M621.6 241.5h0M554.8 221.6h0M551.7 215.0h0M558.5 227.2h0M544.5 217.0h0M587.3 236.2h0M562.5 224.7h0M542.0 254.2h0M537.8 223.6h0M577.2 230.0h0M546.4 215.2h0M538.2 220.4h0M551.9 241.3h0M606.4 237.6h0M564.9 234.3h0M560.4 232.8h0M545.2 227.8h0M560.0 240.1h0M536.9 252.3h0M580.9 231.8h0M582.9 229.2h0M537.0 254.9h0M599.4 233.2h0M545.8 248.8h0M543.5 236.9h0M582.9 234.8h0M612.4 236.0h0M553.5 216.1h0M571.2 230.1h0M588.8 227.7h0M549.9 220.2h0M576.8 225.7h0M564.8 223.6h0M548.7 216.0h0M586.8 228.3h0M566.1 236.3h0M555.4 219.0h0M615.3 236.2h0M557.6 221.2h0M564.8 239.5h0M548.2 228.8h0M619.1 240.5h0M571.9 225.9h0M584.1 237.4h0M536.9 225.5h0M570.3 239.3h0M618.9 237.4h0M573.1 228.2h0M573.3 235.4h0M574.7 232.8h0M592.8 233.2h0M550.8 236.8h0M541.8 241.1h0M585.1 229.9h0M537.1 247.0h0M546.8 233.3h0M571.8 237.3h0M540.6 252.7h0M570.6 221.6h0M539.7 222.0h0M568.9 226.0h0M553.1 233.4h0M580.0 235.9h0M580.4 233.8h0M559.3 223.9h0M536.1 220.7h0M619.7 242.5h0M566.1 226.4h0M593.3 230.7h0M598.2 237.6h0M621.7 239.0h0M541.8 217.0h0M572.5 239.5h0M556.8 225.6h0M548.0 249.2h0M551.8 224.4h0M594.2 228.7h0M536.7 227.7h0M573.3 221.0h0M583.1 239.2h0M568.4 229.8h0M543.7 213.8h0M565.5 228.3h0M542.6 223.8h0M544.0 245.0h0M522.2 237.1h0M523.8 238.4h0M530.1 248.2h0M561.8 245.7h0M569.7 244.1h0M571.2 248.8h0M577.6 249.8h0M576.0 245.7h0M593.4 246.3h0M609.2 243.1h0M629.8 243.1h0M633.0 244.7h0M637.8 243.4h0M644.1 246.6h0M712.2 270.4h0M716.3 271.0h0M716.9 272.6h0M737.5 275.1h0M746.4 272.6h0M747.0 275.8h0M539.6 322.0h0M541.6 320.0h0M542.4 319.3h0M544.2 316.8h0M546.1 316.1h0M548.0 314.2h0M549.3 313.3h0M551.8 311.6h0M553.8 309.3h0M397.8 405.8h0M400.6 417.4h0M388.8 415.1h0M390.7 405.7h0M398.4 391.7h0M395.9 419.3h0M399.7 437.9h0M393.4 399.0h0M412.7 434.0h0M396.4 422.2h0M405.0 401.6h0M402.5 437.4h0M385.7 423.4h0M398.4 399.8h0M409.4 437.7h0M404.2 439.8h0M382.4 406.6h0M400.1 401.0h0M393.7 408.1h0M391.8 390.8h0M399.2 423.5h0M383.1 409.7h0M385.6 410.3h0M386.2 427.1h0M392.4 418.5h0M409.6 442.5h0M393.5 425.6h0M390.5 399.7h0M399.2 426.1h0M381.9 416.9h0M403.4 404.0h0M406.7 434.4h0M391.6 430.3h0M408.9 430.6h0M392.2 423.4h0M379.8 406.3h0M387.3 396.6h0M400.6 427.9h0M393.0 388.2h0M395.1 434.0h0M412.1 442.5h0M387.1 407.6h0M393.4 432.1h0M391.1 427.9h0M402.4 419.4h0M411.1 436.4h0M383.3 399.7h0M398.1 435.2h0M399.7 388.2h0M383.4 419.3h0M392.3 413.9h0M417.5 437.2h0M399.1 393.9h0M384.2 407.5h0M406.4 436.7h0M391.7 404.0h0M390.4 418.0h0M403.1 399.8h0M396.3 394.2h0M395.0 396.5h0M386.4 402.1h0M383.6 421.3h0M389.0 389.5h0M400.0 433.7h0M394.5 415.4h0M417.5 442.5h0M402.3 441.1h0M403.4 428.8h0M395.4 430.2h0M410.6 432.3h0M392.7 393.4h0M406.1 419.2h0M401.3 425.4h0M402.4 433.1h0M393.8 402.3h0M392.0 411.1h0M406.9 443.7h0M405.7 404.0h0M403.9 424.0h0M395.9 432.1h0M394.0 385.2h0M386.1 415.5h0M401.1 435.4h0M381.4 420.0h0M395.6 388.1h0M380.5 411.9h0M394.1 404.8h0M403.8 417.9h0M389.3 408.5h0M402.9 410.3h0M399.0 407.6h0M414.3 440.5h0M400.1 405.9h0M415.1 435.2h0M414.8 442.7h0M407.0 408.3h0M397.1 415.2h0M389.0 428.5h0M397.4 389.1h0M399.5 412.4h0M387.9 403.6h0M388.3 392.9h0M398.4 420.2h0M406.1 427.8h0M397.3 403.6h0M386.6 418.5h0M419.6 439.7h0M404.2 421.6h0M389.0 421.6h0M400.6 409.2h0M414.9 437.9h0M399.7 396.6h0M391.9 397.3h0M405.0 390.8h0M413.8 391.2h0M417.5 395.0h0M422.5 397.5h0M421.2 402.5h0M415.0 406.2h0M417.5 408.8h0M416.2 416.2h0M418.8 420.0h0M422.5 415.0h0M412.5 423.8h0M425.0 423.8h0M429.2 427.5h0M431.2 409.5h0M437.0 397.5h0M442.5 395.5h0M452.5 394.2h0M459.5 386.8h0M425.0 438.8h0M430.0 441.2h0M432.5 444.5h0M420.0 443.8h0M410.0 402.5h0M413.8 400.0h0M440.8 414.5h0M445.0 412.5h0M448.8 413.8h0M451.5 410.0h0M455.0 413.2h0M459.2 415.2h0M285.0 391.2h0M288.0 393.8h0M471.8 430.5h0M473.8 433.0h0M475.8 435.5h0M477.5 438.0h0M479.2 439.2h0M470.8 441.8h0M457.5 440.8h0M440.0 443.8h0M442.5 445.5h0M438.8 450.5h0M445.0 446.2h0M450.0 447.5h0M451.2 450.0h0M456.2 451.2h0M457.0 454.5h0M460.0 450.0h0M490.6 457.7h0M480.2 466.6h0M470.4 452.0h0M482.4 450.4h0M479.5 452.4h0M475.0 470.1h0M483.6 462.4h0M462.6 457.4h0M495.3 454.6h0M467.1 449.9h0M468.0 453.3h0M471.7 461.1h0M479.8 460.3h0M471.8 448.2h0M476.5 459.0h0M474.9 455.1h0M474.3 461.0h0M461.5 449.9h0M482.9 469.3h0M481.5 461.6h0M477.2 450.9h0M496.8 458.7h0M478.7 455.2h0M478.8 470.1h0M485.4 464.8h0M488.5 453.1h0M485.4 452.9h0M474.8 453.1h0M473.3 465.0h0M483.5 456.6h0M471.1 456.5h0M460.2 454.8h0M457.6 454.1h0M455.8 451.1h0M483.8 466.1h0M494.3 452.2h0M480.5 468.6h0M486.0 461.2h0M477.0 456.7h0M465.1 462.6h0M470.1 463.3h0M489.3 459.6h0M481.2 454.8h0M472.1 468.9h0M476.6 465.3h0M464.1 459.1h0M467.1 460.9h0M481.2 458.5h0M468.8 458.0h0M484.4 458.8h0M478.2 463.9h0M488.4 456.3h0M485.5 455.5h0M486.5 458.5h0M472.6 458.8h0M471.7 466.7h0M492.2 452.4h0M472.4 454.2h0M457.2 448.4h0M469.9 449.5h0M465.6 453.2h0M473.4 446.7h0M468.0 466.9h0M492.4 455.1h0M474.4 467.5h0M466.7 456.5h0M498.0 456.4h0M478.0 466.9h0M462.2 455.3h0M459.5 452.3h0M463.8 471.2h0M482.0 477.5h0M490.0 478.0h0M503.0 445.0h0M503.0 452.5h0M502.0 456.2h0M514.6 447.4h0M525.3 443.0h0M516.4 453.6h0M512.9 462.1h0M521.7 447.5h0M513.9 457.8h0M519.6 446.4h0M512.7 448.7h0M509.9 456.0h0M523.9 448.5h0M512.4 451.9h0M511.8 459.1h0M508.8 459.7h0M524.5 446.3h0M517.3 446.0h0M517.4 449.7h0M519.4 451.5h0M532.5 445.5h0M533.2 448.8h0M536.2 439.2h0M539.5 433.8h0M527.0 430.0h0M521.2 424.8h0M515.0 411.2h0M515.8 410.0h0M492.0 347.0h0M490.5 348.8h0M482.0 351.2h0M480.8 354.2h0M484.5 356.2h0M486.2 359.5h0M490.0 360.0h0M492.5 361.2h0M487.5 362.5h0M489.5 367.5h0M492.0 366.8h0M496.7 374.5h0M498.0 378.0h0M499.1 380.7h0M500.7 383.2h0M501.7 386.2h0M503.1 388.6h0M504.2 390.8h0M505.9 394.4h0M507.2 397.0h0M508.7 399.4h0M510.6 402.3h0M490.0 485.0h0M491.2 487.5h0M491.8 490.0h0M490.5 496.2h0M487.5 499.5h0M492.5 498.0h0M482.0 503.0h0M485.5 505.0h0M492.5 507.0h0M499.5 510.0h0M502.5 513.8h0M493.8 515.5h0M480.8 523.0h0M495.5 528.0h0M475.8 531.2h0M479.2 538.0h0M472.5 543.8h0M465.8 546.2h0M510.2 529.2h0M450.8 569.3h0M505.1 576.8h0M518.1 559.1h0M501.9 551.8h0M512.2 538.0h0M477.7 592.8h0M501.4 579.7h0M439.2 577.6h0M482.2 570.5h0M519.7 539.4h0M511.4 573.4h0M423.7 568.4h0M483.2 586.8h0M423.0 564.9h0M486.5 587.0h0M502.1 566.1h0M511.4 555.6h0M447.9 563.3h0M495.0 575.8h0M453.7 584.3h0M435.5 532.0h0M502.8 545.0h0M501.0 557.3h0M439.7 562.6h0M428.0 576.1h0M481.3 567.1h0M472.6 563.1h0M487.6 581.7h0M469.5 581.6h0M456.3 596.9h0M468.6 588.2h0M441.1 591.5h0M470.3 562.5h0M457.8 575.6h0M460.4 562.6h0M519.8 549.1h0M427.2 553.1h0M424.4 549.3h0M420.4 548.7h0M459.6 574.1h0M512.4 566.9h0M435.4 587.1h0M507.0 544.3h0M424.9 570.5h0M476.1 597.2h0M463.8 567.0h0M499.0 568.8h0M439.8 585.5h0M507.9 542.3h0M486.4 592.8h0M457.2 589.2h0M473.0 596.2h0M499.2 577.1h0M468.2 560.1h0M473.0 588.6h0M501.6 549.6h0M426.4 549.7h0M464.6 599.7h0M494.2 555.3h0M445.6 577.0h0M503.1 557.9h0M511.3 540.3h0M438.7 537.6h0M475.4 585.5h0M432.9 560.2h0M514.4 565.4h0M508.5 553.1h0M506.1 566.7h0M430.9 558.4h0M503.2 562.7h0M486.0 554.4h0M521.4 542.3h0M483.4 590.6h0M429.7 555.3h0M439.0 571.3h0M478.5 574.9h0M453.8 598.3h0M514.8 543.9h0M450.0 585.2h0M452.1 588.5h0M507.3 529.7h0M438.7 568.4h0M436.7 575.9h0M440.4 579.2h0M451.8 566.8h0M465.7 585.3h0M442.0 576.3h0M442.1 585.3h0M431.0 543.8h0M435.9 537.0h0M509.8 526.7h0M434.8 570.3h0M463.8 577.9h0M462.7 591.6h0M481.0 588.8h0M420.0 551.7h0M516.4 551.9h0M474.0 569.6h0M496.5 565.7h0M505.2 540.1h0M453.9 570.1h0M477.1 582.8h0M452.1 579.5h0M426.3 564.6h0M448.1 589.3h0M467.3 594.5h0M507.5 560.1h0M474.1 560.6h0M491.0 578.1h0M460.3 581.0h0M453.9 591.8h0M476.0 557.4h0M479.8 583.7h0M467.5 574.6h0M447.5 575.6h0M440.6 573.1h0M453.5 572.2h0M430.7 582.2h0M475.1 595.1h0M428.7 550.9h0M426.2 546.9h0M454.1 580.5h0M444.2 566.6h0M479.6 570.0h0M477.7 577.4h0M434.3 578.9h0M493.2 564.2h0M471.6 597.6h0M518.3 531.4h0M473.4 572.0h0M513.8 555.9h0M435.2 590.5h0M507.4 547.4h0M492.8 560.0h0M488.5 555.1h0M443.1 570.9h0M462.5 582.2h0M422.7 550.4h0M499.3 552.9h0M489.6 563.1h0M510.8 536.1h0M498.8 546.4h0M455.5 586.1h0M420.8 559.3h0M433.8 580.9h0M433.6 536.7h0M461.2 595.4h0M496.1 562.2h0M428.2 537.4h0M494.5 588.5h0M485.7 577.4h0M476.5 568.5h0M424.3 562.3h0M483.6 593.7h0M439.0 594.7h0M508.9 564.6h0M516.8 544.8h0M445.7 568.7h0M464.6 580.0h0M497.7 580.4h0M473.1 567.0h0M464.4 561.1h0M506.9 578.5h0M480.8 560.4h0M489.0 573.6h0M439.1 590.4h0M478.4 565.8h0M480.9 575.9h0M450.8 593.3h0M484.8 571.6h0M518.6 555.8h0M497.0 569.3h0M447.2 579.5h0M509.3 576.7h0M448.1 595.0h0M458.3 568.4h0M506.1 569.6h0M517.0 540.7h0M501.9 575.7h0M511.0 552.1h0M464.2 575.1h0M440.8 593.6h0M497.3 584.9h0M504.0 582.6h0M423.5 558.4h0M436.8 573.4h0M476.1 570.9h0M422.4 546.2h0M483.9 567.9h0M516.1 534.0h0M432.3 533.5h0M496.9 559.5h0M447.4 585.2h0M508.8 555.2h0M445.0 584.5h0M444.5 594.1h0M484.2 555.7h0M459.3 564.3h0M487.0 568.0h0M479.3 561.8h0M449.6 579.4h0M438.2 532.9h0M479.4 558.2h0M476.0 579.4h0M484.2 561.8h0M445.4 590.7h0M433.9 541.0h0M483.0 584.5h0M429.0 544.2h0M491.2 553.3h0M459.0 590.7h0M431.9 564.9h0M467.8 564.8h0M429.8 566.3h0M495.5 551.8h0M457.0 582.4h0M432.8 585.1h0M463.9 572.3h0M420.8 544.7h0M452.5 560.7h0M514.8 563.0h0M493.8 568.3h0M429.4 563.3h0M511.9 549.3h0M450.1 563.5h0M489.7 559.6h0M429.9 547.2h0M491.1 580.8h0M500.5 544.7h0M470.8 565.5h0M480.9 595.2h0M476.4 560.9h0M488.6 590.0h0M504.5 571.7h0M436.8 584.7h0M432.7 570.2h0M454.2 589.6h0M441.6 566.4h0M467.7 576.9h0M496.7 554.4h0M472.2 592.7h0M482.1 581.6h0M508.0 572.5h0M431.5 579.4h0M428.8 539.6h0M516.1 549.3h0M516.5 529.3h0M506.2 563.0h0M516.5 538.7h0M485.7 563.3h0M455.0 563.3h0M432.5 577.4h0M514.6 568.5h0M510.6 568.4h0M460.7 560.5h0M455.1 594.5h0M436.4 567.8h0M480.8 564.8h0M498.7 561.0h0M450.6 571.8h0M456.0 561.6h0M501.2 568.7h0M444.1 578.5h0M480.2 592.3h0M469.7 591.4h0M448.1 566.7h0M427.2 558.3h0M435.8 582.4h0M491.4 569.6h0M484.5 559.3h0M486.7 556.8h0M507.6 539.9h0M432.1 567.6h0M445.1 563.6h0M488.0 577.2h0M519.0 542.2h0M475.1 577.0h0M441.7 561.6h0M472.8 584.4h0M429.5 585.2h0M513.7 551.3h0M467.7 585.0h0M460.6 570.3h0M467.3 580.7h0M449.5 574.4h0M465.3 595.7h0M439.8 587.8h0M442.8 596.0h0M448.9 587.0h0M492.0 582.8h0M512.8 533.8h0M465.9 571.4h0M508.6 570.3h0M455.5 576.4h0M470.6 585.7h0M498.4 557.5h0M456.1 592.7h0M497.0 574.6h0M484.2 574.7h0M513.7 531.2h0M434.5 566.9h0M455.6 568.6h0M514.4 547.3h0M464.6 568.9h0M427.7 541.6h0M429.0 573.6h0M465.4 582.3h0M470.8 578.9h0M516.6 536.6h0M508.9 562.0h0M460.9 567.0h0M448.5 598.5h0M453.5 586.6h0M428.5 568.9h0M501.9 555.4h0M518.0 546.6h0M482.3 573.2h0M444.2 574.2h0M500.9 561.0h0M461.0 600.0h0M436.1 562.5h0M459.2 595.6h0M469.1 569.7h0M431.2 535.2h0M426.5 561.4h0M424.9 554.2h0M465.5 590.0h0M519.4 533.7h0M466.8 597.4h0M421.6 562.7h0M510.6 542.9h0M474.3 565.0h0M506.1 558.3h0M424.3 556.1h0M470.3 558.4h0M473.0 580.9h0M490.9 557.7h0M505.5 546.1h0M509.6 558.2h0M443.5 568.7h0M521.3 538.1h0M436.1 539.8h0M460.8 588.6h0M425.3 551.4h0M421.0 567.7h0M437.7 535.0h0M488.1 570.7h0M441.3 581.7h0M503.8 547.4h0M520.0 552.3h0M501.3 583.4h0M496.0 572.2h0M471.0 571.0h0M493.1 577.5h0M487.4 561.0h0M450.5 576.7h0M427.4 571.6h0M424.8 576.0h0M499.3 572.3h0M495.6 581.6h0M502.7 570.6h0M488.4 565.8h0M491.8 588.8h0M462.9 584.7h0M480.2 578.2h0M521.5 553.8h0M521.6 547.5h0M503.4 542.2h0M498.0 563.5h0M453.7 564.9h0M478.5 580.0h0M432.9 589.6h0M507.5 575.5h0M509.1 545.8h0M487.5 584.3h0M499.1 566.3h0M459.2 586.9h0M475.7 563.1h0M432.1 573.8h0M510.8 565.3h0M490.1 567.5h0M482.0 562.6h0M520.1 544.9h0M442.0 544.2h0M451.8 533.0h0M525.0 552.5h0M495.0 542.0h0M535.0 508.0h0M536.2 509.2h0M555.8 521.8h0M641.2 430.1h0M647.0 432.9h0M720.4 447.7h0M700.8 446.5h0M710.1 449.4h0M586.0 445.6h0M600.9 384.5h0M599.3 460.7h0M682.0 435.9h0M598.2 468.2h0M641.3 466.1h0M727.3 455.4h0M618.3 423.5h0M654.8 463.8h0M707.3 444.6h0M593.7 421.8h0M622.7 467.3h0M610.1 385.5h0M611.3 444.8h0M610.0 388.2h0M606.5 406.8h0M597.9 437.4h0M582.7 462.5h0M625.6 424.3h0M679.8 431.6h0M603.9 379.8h0M595.2 390.5h0M613.6 393.6h0M669.6 434.2h0M595.0 420.2h0M606.3 459.4h0M602.5 403.2h0M620.9 445.1h0M692.5 433.6h0M610.1 464.7h0M700.0 438.1h0M705.0 449.3h0M721.5 453.9h0M614.8 401.9h0M718.2 453.9h0M592.1 464.4h0M612.8 400.4h0M694.4 443.2h0M722.0 451.5h0M612.4 390.6h0M686.1 463.5h0M711.9 441.6h0M590.4 414.3h0M610.5 423.0h0M682.7 464.6h0M698.7 471.0h0M591.9 404.9h0M587.6 400.8h0M623.1 443.5h0M724.5 455.5h0M589.1 384.6h0M601.7 416.2h0M703.0 438.6h0M692.5 428.8h0M594.8 465.5h0M612.9 451.5h0M609.5 412.9h0M716.4 446.3h0M611.8 436.7h0M712.9 471.3h0M610.6 404.9h0M701.8 474.4h0M658.6 463.1h0M604.1 417.2h0M607.3 401.2h0M631.6 425.9h0M690.7 467.0h0M633.2 436.3h0M633.0 446.9h0M657.5 444.1h0M587.4 439.2h0M689.9 452.1h0M645.8 459.7h0M670.4 439.0h0M609.9 458.8h0M628.1 446.7h0M626.7 430.7h0M622.4 431.0h0M584.1 471.3h0M592.8 388.4h0M625.1 426.3h0M621.2 421.8h0M702.8 459.1h0M606.4 397.7h0M716.8 473.6h0M620.8 409.0h0M724.3 448.9h0M601.6 394.8h0M599.6 395.6h0M682.6 453.6h0M658.9 455.7h0M626.5 463.6h0M603.9 457.0h0M680.5 434.1h0M625.3 416.9h0M598.6 434.1h0M607.9 380.3h0M623.2 436.7h0M602.1 387.2h0M604.9 464.2h0M681.7 462.8h0M606.2 392.5h0M678.3 463.9h0M677.0 437.0h0M612.4 454.3h0M627.6 442.9h0M604.1 431.0h0M717.0 468.7h0M600.8 414.3h0M677.2 432.0h0M704.9 470.5h0M618.1 412.9h0M585.0 455.1h0M590.2 466.6h0M692.5 457.0h0M614.0 462.5h0M659.7 427.7h0M634.1 449.5h0M651.0 433.4h0M611.4 408.1h0M624.7 455.6h0M625.0 409.7h0M695.1 456.1h0M583.9 393.4h0M697.5 467.4h0M695.6 449.3h0M599.6 405.6h0M608.8 460.6h0M667.7 448.0h0M694.4 466.5h0M615.2 411.1h0M685.1 434.8h0M612.7 396.0h0M576.0 459.1h0M590.7 403.2h0M594.9 439.4h0M700.6 448.7h0M626.0 460.8h0M622.9 454.1h0M586.6 389.1h0M723.7 460.4h0M615.2 440.8h0M607.9 383.1h0M593.7 427.6h0M612.4 457.3h0M598.3 399.4h0M586.9 395.0h0M666.4 456.6h0M597.4 441.6h0M695.5 473.7h0M617.6 403.6h0M634.4 430.5h0M577.9 460.7h0M593.0 429.6h0M721.2 464.5h0M602.6 460.5h0M613.9 408.8h0M633.0 419.5h0M591.2 461.7h0M718.7 462.7h0M589.3 391.5h0M604.8 405.2h0M621.6 413.8h0M637.8 466.2h0M589.7 426.6h0M582.0 468.1h0M588.8 417.0h0M606.5 410.8h0M588.8 445.8h0M592.8 448.8h0M617.0 436.0h0M707.4 452.9h0M679.6 446.9h0M609.2 396.6h0M699.5 452.9h0M596.3 396.7h0M618.0 398.2h0M687.0 466.2h0M600.1 426.5h0M687.3 452.8h0M687.0 436.9h0M589.0 412.1h0M591.9 433.4h0M631.6 421.5h0M654.9 436.2h0M582.8 473.4h0M675.2 444.4h0M708.3 464.3h0M711.3 458.9h0M599.1 382.1h0M609.1 440.9h0M591.9 396.4h0M682.5 457.2h0M588.0 449.7h0M599.3 453.2h0M608.0 463.7h0M607.3 388.2h0M618.7 462.3h0M704.7 434.8h0M587.5 470.2h0M657.9 429.5h0M704.6 437.3h0M612.2 402.3h0M608.6 405.2h0M616.8 455.6h0M697.6 439.4h0M612.5 426.2h0M618.9 456.2h0M598.6 445.3h0M613.8 420.0h0M590.9 387.0h0M599.4 392.1h0M629.7 465.4h0M580.3 452.8h0M607.3 433.3h0M681.7 440.3h0M686.2 458.8h0M596.2 423.2h0M693.3 438.9h0M591.4 410.6h0M584.8 441.5h0M631.6 460.0h0M592.7 455.2h0M608.8 394.0h0M618.9 428.0h0M614.3 428.9h0M601.3 468.8h0M689.4 461.5h0M606.9 437.4h0M675.3 446.9h0M630.9 429.1h0M619.7 396.8h0M688.7 458.0h0M690.6 440.2h0M591.8 446.1h0M678.3 423.9h0M599.1 422.7h0M706.0 458.0h0M729.2 459.9h0M710.6 447.1h0M686.4 439.6h0M707.5 469.0h0M684.7 466.8h0M610.3 418.0h0M711.2 438.6h0M645.4 466.1h0M716.7 448.6h0M615.4 396.1h0M619.7 465.8h0M726.9 470.7h0M711.8 444.6h0M602.5 453.3h0M709.9 441.0h0M619.3 446.8h0M593.3 412.4h0M665.3 453.1h0M689.5 424.1h0M580.8 466.0h0M664.5 436.1h0M595.2 463.4h0M698.7 448.2h0M594.6 415.2h0M692.5 450.9h0M597.0 409.4h0M601.2 421.1h0M677.3 457.9h0M620.8 405.3h0M604.9 387.4h0M587.7 387.4h0M703.1 462.5h0M663.7 443.2h0M714.9 450.1h0M584.8 397.5h0M692.4 436.7h0M615.4 405.0h0M600.9 432.5h0M586.7 398.4h0M673.6 432.4h0M659.2 436.2h0M702.9 448.2h0M591.5 442.6h0M594.9 381.4h0M597.2 450.5h0M600.8 444.7h0M589.5 456.0h0M628.2 457.0h0M595.2 384.6h0M675.3 456.3h0M608.9 429.7h0M654.0 460.5h0M629.4 411.4h0M702.5 454.4h0M597.8 402.8h0M692.2 447.2h0M715.2 457.4h0M725.3 453.2h0M688.3 432.4h0M651.7 462.1h0M670.7 448.6h0M589.1 389.1h0M592.8 437.9h0M600.9 377.4h0M589.0 409.2h0M713.4 454.6h0M700.5 441.7h0M591.0 431.4h0M629.7 427.2h0M725.9 468.5h0M689.4 454.9h0M629.5 461.7h0M720.2 460.3h0M627.9 440.2h0M679.1 421.1h0M622.4 428.5h0M605.0 402.6h0M602.5 443.4h0M693.0 461.0h0M647.8 459.9h0M654.3 428.1h0M723.8 463.1h0M620.0 437.6h0M605.1 442.5h0M675.0 459.7h0M644.0 424.3h0M592.6 424.3h0M596.7 455.6h0M606.4 390.0h0M706.7 471.8h0M603.0 383.1h0M600.5 399.1h0M616.3 420.3h0M628.3 423.0h0M596.9 407.3h0M686.4 427.7h0M621.3 419.2h0M711.3 461.6h0M612.6 414.0h0M661.9 437.2h0M699.9 467.5h0M596.9 378.5h0M594.6 461.2h0M618.7 410.3h0M655.4 453.3h0M618.1 450.2h0M680.4 448.8h0M638.1 432.3h0M696.7 444.9h0M605.8 381.0h0M621.1 424.3h0M620.0 416.3h0M615.6 445.9h0M608.9 436.0h0M609.4 409.2h0M603.0 446.6h0M694.6 433.4h0M601.6 391.7h0M705.7 461.4h0M636.9 457.1h0M595.5 394.3h0M605.6 467.5h0M702.5 442.9h0M585.3 391.1h0M658.1 461.1h0M702.1 432.7h0M631.1 440.4h0M594.1 400.9h0M706.9 441.2h0M612.0 430.1h0M709.4 467.9h0M615.6 414.9h0M608.5 455.4h0M608.4 426.5h0M597.1 426.0h0M673.0 437.6h0M612.6 405.9h0M695.5 458.9h0M623.8 457.8h0M636.0 454.0h0M619.1 418.7h0M717.5 470.9h0M684.5 460.4h0M617.8 407.1h0M611.8 433.4h0M667.4 452.9h0M644.1 427.3h0M685.3 430.6h0M585.2 406.4h0M595.1 429.2h0M626.4 454.4h0M582.9 457.9h0M625.6 433.5h0M620.8 453.4h0M700.5 470.0h0M690.5 433.5h0M709.7 475.7h0M584.1 469.1h0M692.0 462.9h0M714.6 472.7h0M648.5 462.8h0M719.1 474.1h0M707.2 434.4h0M633.9 465.7h0M644.5 429.5h0M614.0 444.2h0M598.2 385.0h0M654.4 433.1h0M605.3 385.4h0M725.8 458.7h0M607.5 414.3h0M682.2 428.9h0M677.0 425.7h0M616.7 468.0h0M620.0 431.0h0M590.1 397.5h0M670.6 441.2h0M625.9 421.5h0M684.3 426.6h0M629.8 417.7h0M612.8 387.5h0M588.2 458.8h0M593.3 416.8h0M649.1 427.9h0M645.0 433.5h0M595.0 403.4h0M678.8 438.5h0M679.2 456.9h0M599.6 408.0h0M711.3 465.6h0M609.2 448.4h0M696.6 464.6h0M621.9 433.3h0M585.5 402.4h0M586.5 468.4h0M643.6 460.8h0M609.9 462.4h0M585.6 421.1h0M693.0 425.7h0M662.3 453.4h0M636.2 433.7h0M686.8 469.6h0M671.1 429.4h0M602.6 440.5h0M604.1 393.4h0M629.5 436.8h0M592.6 381.6h0M698.1 431.9h0M623.3 408.1h0M669.2 450.9h0M720.4 455.8h0M697.2 453.0h0M592.1 420.3h0M640.9 421.1h0M638.0 421.1h0M666.7 439.3h0M625.5 444.8h0M614.6 426.7h0M603.6 428.3h0M588.3 428.8h0M635.5 459.3h0M596.0 434.7h0M713.4 466.0h0M595.4 431.5h0M710.2 470.2h0M638.4 426.8h0M597.9 458.3h0M673.4 429.8h0M599.5 379.9h0M665.0 446.8h0M608.8 468.7h0M675.1 438.0h0M711.2 455.2h0M591.2 457.4h0M592.5 392.5h0M709.0 438.5h0M650.0 446.0h0M641.8 454.5h0M633.8 443.0h0M540.0 433.8h0M536.2 439.5h0M532.5 446.2h0M533.5 448.8h0M561.2 443.2h0M566.2 440.5h0M571.2 443.2h0M571.2 448.0h0M567.0 457.5h0M567.5 462.0h0M576.2 475.0h0M570.0 478.2h0M567.5 481.8h0M563.8 488.0h0M567.5 491.2h0M558.8 497.5h0M561.2 498.8h0M565.0 497.5h0M563.8 501.2h0M567.5 503.0h0M535.0 507.5h0M536.2 509.5h0M555.8 522.0h0M565.0 525.0h0M562.0 527.0h0M566.8 530.8h0M573.1 533.5h0M575.7 534.3h0M577.9 536.6h0M579.8 537.9h0M582.4 540.5h0M584.9 542.6h0M586.6 544.1h0M589.9 545.2h0M591.6 548.0h0M593.7 549.3h0M596.2 551.1h0M599.3 552.9h0M720.0 530.5h0M723.8 535.5h0M733.2 537.5h0M739.5 532.0h0M741.2 540.0h0M738.8 543.8h0M742.5 546.2h0M750.0 545.0h0M753.8 550.0h0M732.5 555.5h0M735.0 561.2h0M737.0 566.8h0M747.5 560.0h0M752.5 560.0h0M757.5 560.0h0M761.8 561.8h0M748.8 567.5h0M751.2 571.2h0M753.8 573.8h0M756.2 576.2h0M758.0 578.8h0M762.0 568.0h0M761.2 572.0h0M775.8 571.2h0M786.2 566.2h0M786.2 571.2h0M741.2 536.2h0M745.0 542.5h0M747.5 552.5h0M750.0 556.2h0M745.0 560.0h0M742.5 550.0h0M755.0 553.8h0M738.8 550.0h0M705.6 580.5h0M775.7 600.2h0M764.2 585.0h0M736.5 589.3h0M723.0 594.5h0M757.0 595.6h0M741.2 599.6h0M757.6 600.6h0M726.7 592.9h0M754.6 597.1h0M786.8 582.6h0M782.4 584.5h0M767.7 580.4h0M782.4 591.7h0M758.5 602.5h0M731.9 599.9h0M740.7 590.9h0M750.1 598.5h0M743.7 595.6h0M777.6 596.0h0M762.1 599.1h0M777.9 588.4h0M773.9 593.6h0M764.5 598.0h0M779.2 592.9h0M761.2 602.0h0M734.8 592.0h0M767.2 598.7h0M768.8 582.3h0M779.6 595.4h0M761.0 585.5h0M729.2 591.0h0M760.3 589.5h0M748.6 602.9h0M786.4 584.7h0M763.9 589.1h0M746.9 604.9h0M768.0 584.7h0M759.2 597.4h0M784.8 590.0h0M753.9 593.9h0M736.6 594.1h0M764.5 582.8h0M721.9 588.8h0M763.4 603.3h0M721.6 596.4h0M756.3 604.2h0M765.9 596.2h0M731.8 594.9h0M743.8 590.5h0M751.3 594.0h0M716.3 588.8h0M774.4 583.3h0M775.2 585.7h0M761.4 595.5h0M762.8 592.7h0M736.6 601.1h0M738.1 592.0h0M730.5 597.5h0M772.8 587.0h0M746.0 591.2h0M754.7 589.2h0M784.5 583.7h0M753.5 600.7h0M707.7 583.1h0M750.3 588.0h0M738.9 599.5h0M777.2 598.4h0M745.8 595.3h0M767.8 588.5h0M742.3 601.7h0M754.8 606.4h0M719.8 592.4h0M762.8 605.5h0M779.7 590.3h0M774.6 580.2h0M730.6 593.0h0M772.1 592.7h0M711.4 586.0h0M755.7 598.8h0M749.3 605.5h0M727.3 588.7h0M785.3 586.7h0M738.9 602.4h0M770.2 591.2h0M741.8 596.7h0M716.9 593.5h0M765.5 603.2h0M751.2 591.3h0M771.6 599.1h0M756.4 590.4h0M716.5 586.8h0M723.7 597.1h0M781.2 588.7h0M713.3 584.1h0M751.5 606.1h0M752.3 586.3h0M783.0 581.5h0M771.0 596.2h0M775.5 592.2h0M764.1 601.2h0M731.8 589.4h0M713.9 588.6h0M746.5 599.2h0M763.5 587.0h0M772.2 589.6h0M725.8 595.2h0M773.4 598.1h0M767.7 604.0h0M743.3 599.4h0M780.2 584.4h0M765.3 594.0h0M722.8 591.1h0M773.5 602.5h0M736.4 597.2h0M751.5 602.1h0M733.7 594.2h0M727.7 599.5h0M766.7 582.3h0M760.7 604.0h0M767.0 591.7h0M759.8 583.2h0M742.6 603.7h0M770.8 581.1h0M746.7 593.3h0M770.3 584.3h0M772.3 579.2h0M749.2 592.7h0M784.7 579.7h0M729.3 595.0h0M724.8 588.0h0M718.7 586.7h0M738.1 595.8h0M710.4 582.4h0M742.0 607.5h0M726.2 587.0h0M705.0 580.0h0M1028.6 748.0h0M1047.7 734.4h0M1048.6 667.1h0M984.3 715.2h0M953.8 774.4h0M918.6 730.0h0M907.4 715.9h0M948.2 742.6h0M993.7 731.5h0M979.1 719.3h0M950.9 686.7h0M982.6 765.3h0M1003.8 680.1h0M917.7 732.5h0M952.4 677.7h0M952.9 761.1h0M1003.6 751.5h0M987.6 722.3h0M975.8 750.5h0M967.9 674.2h0M957.2 708.9h0M973.5 661.2h0M953.7 757.7h0M967.7 723.8h0M983.5 734.9h0M1024.0 746.6h0M913.6 748.9h0M940.6 741.4h0M929.8 764.6h0M916.8 728.0h0M956.9 779.1h0M1009.2 707.2h0M1049.5 690.3h0M1003.8 742.2h0M926.2 723.6h0M986.1 742.4h0M999.7 687.4h0M914.5 754.1h0M1041.8 736.2h0M965.2 705.9h0M982.0 688.5h0M923.6 759.2h0M981.0 742.6h0M974.6 709.9h0M925.5 748.5h0M1041.3 709.8h0M987.4 763.1h0M1044.1 706.7h0M1045.5 720.9h0M983.6 642.3h0M913.3 707.6h0M1023.6 761.3h0M976.9 782.2h0M946.9 713.4h0M990.9 722.9h0M929.8 738.3h0M953.7 753.1h0M987.8 715.7h0M972.5 765.7h0M1009.5 724.2h0M1009.2 702.9h0M913.5 720.1h0M939.7 769.9h0M959.7 698.7h0M914.9 764.3h0M998.0 671.6h0M1039.7 698.4h0M906.9 723.5h0M954.9 724.0h0M998.6 641.0h0M921.4 783.1h0M1011.4 691.4h0M990.7 743.8h0M976.9 754.4h0M1016.1 731.3h0M975.7 718.0h0M1028.9 672.9h0M945.4 757.8h0M1013.4 770.2h0M949.0 730.7h0M950.0 765.4h0M1022.1 735.9h0M1019.0 691.7h0M1025.3 726.6h0M918.1 776.5h0M986.2 772.4h0M981.3 767.8h0M1015.9 712.5h0M977.1 698.9h0M1000.1 740.4h0M1007.3 772.6h0M982.7 750.4h0M964.6 767.2h0M1055.7 699.6h0M986.1 769.1h0M961.8 677.8h0M959.1 779.9h0M954.2 750.5h0M1060.8 687.9h0M981.1 680.5h0M925.5 721.3h0M912.9 724.6h0M970.3 752.8h0M1022.8 697.3h0M988.5 649.6h0M986.7 753.1h0M1017.5 639.2h0M915.3 752.0h0M1006.3 757.8h0M974.7 777.6h0M912.2 777.8h0M957.8 759.5h0M958.1 695.7h0M973.4 742.0h0M900.8 713.1h0M966.7 717.3h0M1025.7 765.1h0M979.1 662.3h0M981.0 735.8h0M958.4 693.5h0M971.6 677.6h0M960.2 736.3h0M912.4 772.8h0M962.5 722.8h0M993.5 691.4h0M1005.4 675.2h0M940.3 693.2h0M1004.5 769.8h0M987.1 726.6h0M929.5 750.8h0M952.0 737.6h0M944.6 736.2h0M988.0 744.3h0M986.5 649.2h0M946.8 719.8h0M952.2 725.9h0M945.7 691.2h0M1004.8 731.7h0M925.4 777.9h0M941.3 755.3h0M948.1 674.7h0M962.3 765.0h0M1002.1 767.3h0M968.2 677.8h0M1007.6 674.5h0M898.6 706.0h0M915.9 759.6h0M957.4 746.8h0M998.1 683.6h0M914.9 746.9h0M956.0 728.8h0M992.5 764.1h0M976.2 663.7h0M1005.8 627.6h0M954.4 738.2h0M1024.6 735.6h0M934.6 716.6h0M951.3 705.9h0M1006.3 738.8h0M950.1 739.4h0M959.5 748.9h0M1028.9 703.1h0M973.6 689.1h0M959.1 685.9h0M942.8 762.3h0M915.0 742.5h0M947.7 775.0h0M1033.4 742.5h0M1027.7 761.9h0M916.4 749.6h0M1051.4 715.2h0M1036.0 681.9h0M910.1 709.8h0M957.4 670.5h0M980.0 723.2h0M954.5 711.1h0M980.3 774.1h0M966.3 750.7h0M968.9 694.9h0M945.5 746.4h0M1049.5 650.4h0M1053.9 656.4h0M955.3 764.5h0M1039.3 711.0h0M948.6 782.0h0M950.2 755.1h0M959.0 702.9h0M967.4 764.8h0M1041.8 718.5h0M1014.4 747.8h0M907.7 726.7h0M1024.0 718.4h0M1029.6 651.0h0M989.5 759.8h0M1029.0 756.3h0M950.8 701.6h0M992.0 761.1h0M999.0 754.9h0M954.0 766.1h0M1037.3 695.7h0M992.9 673.0h0M1026.9 752.8h0M992.1 716.2h0M914.4 713.1h0M938.0 751.4h0M1027.9 733.7h0M991.0 747.1h0M994.7 733.6h0M910.9 733.6h0M1008.8 643.1h0M971.1 686.2h0M1010.8 755.4h0M1034.1 700.9h0M1045.6 737.6h0M1016.5 755.6h0M1023.1 683.8h0M974.9 672.3h0M946.5 735.5h0M979.2 745.6h0M949.1 666.5h0M947.7 686.9h0M980.7 631.6h0M926.7 751.0h0M1015.3 676.6h0M988.7 775.9h0M948.5 763.8h0M958.7 690.7h0M1055.0 694.9h0M1005.7 723.3h0M1054.7 647.2h0M966.3 735.5h0M927.1 710.9h0M1026.6 719.7h0M1003.5 746.8h0M927.7 716.6h0M968.0 757.9h0M1005.0 749.7h0M925.0 735.4h0M938.1 694.9h0M1004.5 658.3h0M1010.1 648.6h0M971.2 775.1h0M920.8 767.5h0M924.3 774.1h0M914.4 735.2h0M1006.6 753.3h0M917.9 783.0h0M984.6 677.0h0M919.8 713.6h0M997.6 700.4h0M955.0 740.3h0M971.1 728.8h0M928.9 718.3h0M929.1 740.6h0M1004.4 712.1h0M991.0 736.5h0M987.2 695.8h0M994.4 736.3h0M969.3 749.2h0M947.9 749.2h0M967.9 769.7h0M979.5 757.9h0M1021.8 674.9h0M993.1 659.7h0M1004.3 775.0h0M922.7 741.7h0M938.2 749.0h0M985.0 704.6h0M938.5 699.5h0M980.2 779.7h0M995.0 738.7h0M943.8 752.3h0M948.3 696.8h0M946.1 711.4h0M964.6 674.1h0M985.2 746.7h0M935.6 722.8h0M930.7 782.5h0M1018.4 734.5h0M924.4 782.2h0M938.1 780.7h0M1012.4 710.6h0M1004.1 691.9h0M1003.0 694.0h0M929.4 784.0h0M1013.1 722.5h0M1008.7 753.8h0M939.7 782.2h0M926.0 786.1h0M1006.0 715.9h0M949.8 672.1h0M944.9 759.9h0M942.8 691.0h0M1001.2 776.3h0M1056.7 673.7h0M974.1 722.8h0M975.9 726.3h0M971.7 695.8h0M976.6 709.9h0M1010.2 742.2h0M960.5 680.0h0M920.8 740.4h0M945.9 702.2h0M1002.9 714.9h0M970.4 772.6h0M913.8 769.9h0M982.2 724.1h0M963.5 713.4h0M1006.7 684.3h0M962.9 746.4h0M950.4 777.2h0M984.5 710.8h0M1001.7 736.0h0M1029.5 668.7h0M945.9 671.5h0M1056.0 661.6h0M980.9 721.1h0M1054.1 689.9h0M1003.8 729.9h0M952.3 721.0h0M972.5 706.3h0M929.5 758.3h0M997.9 766.9h0M1013.8 729.8h0M968.6 777.9h0M993.7 755.7h0M988.5 778.3h0M975.3 692.9h0M1010.7 660.0h0M927.0 733.8h0M941.7 749.7h0M1026.9 755.7h0M1047.7 694.7h0M1039.0 722.8h0M1009.6 770.1h0M971.2 761.3h0M950.4 689.5h0M969.8 672.8h0M929.0 736.4h0M1026.7 714.2h0M957.7 698.2h0M957.4 744.3h0M979.3 754.2h0M972.9 718.8h0M980.4 752.3h0M1014.7 694.6h0M997.1 675.5h0M997.5 764.4h0M923.4 754.3h0M951.7 749.6h0M967.2 745.0h0M1019.9 763.4h0M952.5 770.4h0M952.3 781.1h0M936.3 785.9h0M955.0 743.6h0M1031.8 730.6h0M982.1 744.9h0M913.7 740.2h0M925.7 709.2h0M936.1 733.0h0M910.2 743.1h0M977.4 752.5h0M1039.6 738.6h0M954.0 748.0h0M998.4 746.1h0M921.1 745.6h0M979.4 640.9h0M966.1 755.6h0M1007.6 714.7h0M928.4 726.0h0M914.9 725.3h0M902.3 727.5h0M1004.0 647.8h0M1002.5 720.0h0M929.3 777.3h0M1003.0 676.6h0M1026.7 717.3h0M1060.1 657.8h0M1042.0 741.9h0M1017.3 702.2h0M925.5 728.9h0M1037.1 636.9h0M944.0 710.4h0M1005.7 719.0h0M910.6 719.3h0M943.5 693.0h0M995.3 709.4h0M1008.8 663.1h0M917.0 765.4h0M1002.9 726.2h0M1045.7 644.9h0M1025.3 739.1h0M926.9 771.7h0M961.0 742.3h0M1014.6 754.2h0M1006.7 692.7h0M942.9 687.8h0M1056.0 690.7h0M916.2 722.5h0M949.1 757.0h0M977.8 760.1h0M1020.2 716.8h0M1035.9 699.6h0M909.0 731.1h0M1029.2 676.4h0M1024.4 713.4h0M960.4 740.2h0M996.9 694.4h0M1033.3 751.4h0M932.1 761.0h0M999.4 711.3h0M1018.8 633.2h0M970.0 704.2h0M1003.4 708.6h0M1025.7 741.5h0M1031.8 755.1h0M1003.4 700.9h0M984.9 733.5h0M1052.4 696.5h0M995.4 630.9h0M1011.0 655.1h0M1048.2 724.5h0M930.8 755.1h0M986.9 645.4h0M916.5 744.5h0M934.5 735.4h0M931.9 715.4h0M1014.5 654.1h0M950.6 761.9h0M929.5 728.6h0M1038.2 657.8h0M999.4 771.8h0M1007.4 767.9h0M941.6 700.0h0M949.5 710.8h0M1015.3 699.7h0M970.7 682.7h0M997.7 718.1h0M961.5 714.7h0M978.0 728.7h0M1036.4 675.5h0M964.8 723.0h0M999.0 763.0h0M995.5 753.2h0M1016.7 743.2h0M991.6 688.8h0M973.6 767.8h0M946.2 777.2h0M980.5 756.0h0M942.9 718.9h0M943.7 745.0h0M930.1 768.9h0M1008.2 741.8h0M937.4 737.2h0M983.8 777.1h0M964.0 755.8h0M1018.2 756.9h0M996.5 715.6h0M924.0 745.7h0M937.7 718.9h0M995.4 763.1h0M960.8 669.8h0M973.1 763.1h0M1002.0 634.6h0M930.9 709.3h0M924.9 763.8h0M950.6 744.5h0M1024.9 695.9h0M959.8 767.1h0M936.7 730.0h0M996.0 758.8h0M998.0 729.1h0M939.6 763.4h0M942.5 764.8h0M981.3 685.7h0M948.3 737.8h0M965.7 636.5h0M1028.7 720.6h0M1011.6 749.9h0M1014.3 745.6h0M971.1 640.1h0M935.0 706.6h0M983.1 771.3h0M1042.4 665.6h0M991.7 766.1h0M945.5 768.3h0M1033.0 723.5h0M908.9 735.3h0M1020.9 731.7h0M973.2 697.6h0M904.6 711.6h0M1016.4 720.4h0M961.4 776.7h0M983.6 687.3h0M1000.3 747.6h0M993.8 647.5h0M1049.6 643.9h0M1007.7 678.1h0M913.0 752.1h0M941.3 682.2h0M1002.5 697.9h0M944.1 721.5h0M1059.3 654.0h0M1012.2 743.6h0M946.0 784.1h0M981.0 730.0h0M1007.5 764.8h0M892.8 703.4h0M1003.0 723.8h0M984.7 781.0h0M966.7 701.9h0M911.5 774.7h0M1048.7 730.1h0M909.5 721.7h0M915.1 782.3h0M1009.6 766.9h0M975.8 764.9h0M969.0 706.2h0M959.3 762.9h0M996.8 772.9h0M988.9 633.2h0M1015.3 718.5h0M993.7 686.6h0M1023.5 741.3h0M964.1 695.0h0M933.7 733.5h0M1037.7 714.6h0M920.1 765.0h0M1030.0 684.8h0M983.6 726.3h0M1025.5 671.9h0M962.7 731.5h0M969.2 733.7h0M999.3 690.3h0M982.5 754.8h0M1036.3 731.6h0M917.0 770.7h0M917.9 738.0h0M987.7 707.4h0M962.0 711.5h0M913.4 731.3h0M998.0 721.0h0M914.8 784.5h0M936.5 726.6h0M955.9 703.1h0M1016.7 643.2h0M1033.3 704.0h0M1042.7 693.9h0M1018.8 739.6h0M937.7 743.4h0M919.6 750.6h0M918.1 752.4h0M1006.7 699.5h0M904.3 719.6h0M1016.9 747.5h0M1019.5 665.5h0M978.3 716.8h0M937.8 707.1h0M1032.0 694.1h0M931.6 727.3h0M929.9 743.0h0M1020.1 767.7h0M951.7 774.9h0M977.3 684.0h0M991.8 634.8h0M952.6 723.8h0M1052.3 680.4h0M1001.1 646.2h0M947.2 733.6h0M934.3 748.1h0M919.1 743.3h0M958.7 775.5h0M909.2 770.6h0M925.1 726.4h0M923.4 771.4h0M913.9 762.0h0M1020.9 707.8h0M1044.3 697.4h0M973.6 732.7h0M920.4 756.6h0M974.5 773.0h0M993.8 758.1h0M960.0 756.3h0M928.2 730.4h0M1017.1 768.8h0M1045.0 681.0h0M1000.0 758.8h0M1026.1 758.2h0M934.4 719.3h0M961.0 772.0h0M992.4 675.6h0M1021.7 750.7h0M994.3 770.2h0M1033.7 710.4h0M936.3 703.4h0M1002.8 643.2h0M952.2 717.8h0M976.0 741.9h0M1009.5 712.5h0M1018.6 646.6h0M925.8 742.9h0M993.4 668.8h0M995.2 695.7h0M1032.4 666.8h0M1037.5 725.9h0M1012.9 639.6h0M969.4 726.6h0M948.1 705.4h0M942.9 707.7h0M1045.7 732.6h0M1002.9 756.9h0M939.3 710.3h0M1042.8 723.8h0M977.5 706.1h0M968.3 697.2h0M907.4 720.2h0M976.3 771.9h0M933.2 711.4h0M950.4 683.2h0M905.7 709.7h0M940.0 737.1h0M979.3 653.3h0M940.3 721.3h0M1007.6 630.8h0M943.4 705.2h0M914.4 717.0h0M1018.9 726.1h0M936.2 713.7h0M967.2 708.5h0M945.7 724.8h0M995.5 768.3h0M999.7 676.5h0M1004.1 672.4h0M893.6 705.7h0M970.0 675.3h0M933.0 740.5h0M1015.2 739.1h0M1033.0 713.1h0M919.5 722.7h0M1048.1 674.5h0M959.7 676.2h0M933.9 730.5h0M978.8 743.2h0M983.7 706.7h0M1044.8 728.0h0M959.0 752.7h0M979.4 702.9h0M967.7 691.7h0M976.3 762.0h0M1059.6 664.9h0M1014.9 633.4h0M1009.2 730.6h0M1010.6 671.7h0M988.0 736.1h0M935.2 741.5h0M1015.1 767.3h0M982.3 762.2h0M917.9 761.8h0M943.7 783.6h0M1055.7 677.4h0M1009.5 763.3h0M988.3 741.7h0M975.7 736.6h0M943.3 769.3h0M930.8 711.4h0M954.4 781.0h0M970.2 779.5h0M933.0 745.2h0M956.3 692.2h0M1034.5 667.6h0M988.4 757.9h0M1020.8 702.2h0M982.7 669.7h0M965.4 731.5h0M1048.3 682.1h0M955.3 668.6h0M932.4 783.7h0M997.8 744.0h0M972.8 744.0h0M894.0 708.1h0M970.4 732.0h0M930.0 733.3h0M936.5 710.6h0M980.1 696.9h0M904.0 729.9h0M944.6 731.1h0M1003.3 666.9h0M986.8 702.7h0M955.7 719.6h0M906.5 734.0h0M961.3 751.8h0M1030.6 738.8h0M1031.3 643.3h0M1042.2 711.9h0M1042.5 688.0h0M984.6 753.4h0M941.5 746.8h0M991.2 697.5h0M935.8 699.3h0M989.8 712.1h0M981.2 705.3h0M991.3 727.1h0M972.0 751.6h0M911.7 745.2h0M1001.7 730.8h0M939.5 716.9h0M953.7 742.0h0M939.5 723.2h0M942.4 674.6h0M933.0 786.7h0M1022.0 759.5h0M896.7 701.5h0M986.6 765.5h0M1058.1 662.8h0M1014.4 709.1h0M945.8 708.2h0M1027.3 738.5h0M1022.7 739.4h0M1053.3 684.8h0M989.7 687.8h0M953.4 783.0h0M997.2 735.7h0M934.8 751.2h0M1033.3 719.2h0M941.5 679.5h0M989.5 668.2h0M1052.2 648.2h0M1014.8 727.4h0M978.0 764.0h0M923.1 738.3h0M987.9 731.1h0M1016.9 664.8h0M949.8 733.3h0M1033.9 652.0h0M993.3 742.7h0M901.0 715.2h0M930.6 775.7h0M965.5 725.4h0M1008.1 737.4h0M974.4 707.3h0M1051.3 694.7h0M942.9 771.5h0M1000.8 738.5h0M985.3 690.5h0M1022.7 688.0h0M991.3 753.9h0M942.5 685.9h0M989.4 728.7h0M983.8 696.2h0M917.5 724.9h0M998.5 751.5h0M911.6 717.3h0M1059.2 698.8h0M979.9 649.2h0M1015.4 630.9h0M901.8 722.5h0M985.1 718.5h0M933.9 768.7h0M1045.9 704.2h0M1000.6 752.1h0M969.2 721.5h0M1022.5 672.0h0M979.8 764.8h0M990.3 625.9h0M1021.7 665.3h0M952.2 759.1h0M934.2 766.5h0M896.9 708.3h0M1002.6 740.0h0M1031.1 717.2h0M951.0 731.2h0M919.3 770.2h0M990.6 763.2h0M927.1 781.9h0M962.4 716.9h0M987.9 700.9h0M977.5 769.7h0M981.8 714.1h0M989.0 719.7h0M912.3 736.9h0M928.0 722.1h0M954.8 713.2h0M1008.3 746.8h0M971.6 735.5h0M941.2 760.3h0M1062.2 663.8h0M939.6 753.7h0M969.7 699.2h0M1056.0 715.3h0M964.7 764.4h0M942.2 726.0h0M921.6 732.6h0M947.8 693.9h0M1037.9 721.0h0M1041.8 728.4h0M938.7 726.0h0M977.4 747.5h0M1061.2 691.7h0M929.3 766.7h0M1010.8 736.4h0M1059.6 701.4h0M945.5 698.2h0M971.1 725.2h0M965.1 671.8h0M991.0 658.8h0M989.4 751.8h0M1018.2 729.7h0M953.2 699.7h0M921.6 780.9h0M959.1 734.5h0M964.4 718.4h0M927.6 759.9h0M915.0 774.3h0M927.2 739.5h0M966.2 727.6h0M1012.7 763.4h0M969.7 723.6h0M923.0 734.2h0M973.8 644.6h0M939.3 761.4h0M986.2 652.8h0M986.5 724.4h0M998.8 724.8h0M964.1 715.9h0M957.9 757.5h0M949.1 707.2h0M967.5 710.8h0M970.8 709.6h0M969.1 634.5h0M913.6 758.4h0M933.0 779.5h0M983.3 700.0h0M920.7 728.0h0M999.7 706.7h0M1027.1 735.9h0M993.0 774.8h0M994.3 688.9h0M1031.1 699.6h0M1052.9 704.7h0M1036.9 705.2h0M1039.6 732.5h0M960.0 723.7h0M991.3 647.9h0M963.0 704.6h0M1032.0 726.5h0M1016.2 751.9h0M999.5 696.1h0M925.6 759.7h0M903.6 715.3h0M915.2 706.5h0M939.6 776.8h0M986.2 756.1h0M1031.6 653.3h0M1051.4 659.0h0M972.7 749.4h0M955.3 770.4h0M943.8 776.2h0M1007.8 680.3h0M1028.9 718.2h0M975.1 769.1h0M905.3 727.7h0M945.5 771.1h0M974.7 746.8h0M942.0 778.1h0M961.0 760.1h0M991.3 664.0h0M969.5 716.9h0M991.0 750.3h0M960.3 716.4h0M1013.0 767.2h0M1034.9 735.1h0M936.9 771.8h0M1028.9 725.9h0M1000.1 682.3h0M988.2 638.6h0M1033.5 645.5h0M1021.3 733.8h0M996.0 749.8h0M997.2 756.0h0M1005.4 661.9h0M1055.3 712.3h0M1059.5 708.3h0M1011.0 761.3h0M948.9 779.5h0M973.0 684.5h0M1008.9 744.2h0M1020.2 745.3h0M981.6 758.7h0M960.2 732.7h0M1036.8 690.4h0M1020.2 650.9h0M1024.4 711.4h0M1035.6 727.7h0M944.4 750.1h0M1021.0 743.0h0M956.8 774.1h0M970.0 744.6h0M919.3 734.0h0M991.6 669.9h0M995.5 726.4h0M988.8 655.1h0M990.4 777.7h0M957.4 769.0h0M895.0 710.5h0M1047.9 678.5h0M1020.1 637.3h0M946.7 727.2h0M942.8 734.1h0M1016.6 671.5h0M965.2 682.5h0M933.5 771.7h0M950.3 751.5h0M976.4 675.7h0M925.9 775.9h0M990.5 767.9h0M995.5 638.5h0M949.6 770.6h0M1047.5 664.1h0M910.4 767.5h0M945.9 762.5h0M991.9 628.0h0M955.5 736.5h0M923.5 785.8h0M991.5 720.6h0M957.3 739.6h0M1059.9 679.0h0M940.6 714.3h0M948.9 716.7h0M1025.7 731.3h0M961.8 688.6h0M952.1 740.3h0M1048.0 700.5h0M989.9 707.5h0M961.7 675.6h0M923.4 709.8h0M1009.8 676.7h0M964.0 698.7h0M920.4 711.2h0M1038.9 706.0h0M951.3 729.0h0M999.1 630.2h0M996.0 702.4h0M967.7 714.8h0M1045.6 725.9h0M1022.8 725.2h0M917.4 785.9h0M1004.9 764.0h0M1041.2 745.3h0M978.6 736.4h0M1002.5 763.9h0M951.5 756.8h0M1008.9 688.2h0M943.5 713.4h0M991.9 656.0h0M1046.9 718.6h0M959.3 719.2h0M1051.3 729.1h0M927.1 757.7h0M902.6 718.3h0M943.5 766.8h0M958.1 732.7h0M1052.7 700.8h0M1022.1 766.3h0M1024.9 674.5h0M959.5 728.1h0M994.9 697.8h0M1009.0 721.6h0M974.3 669.7h0M935.3 774.5h0M1024.6 643.3h0M977.2 701.9h0M920.7 785.9h0M992.8 705.5h0M965.8 740.4h0M1059.6 675.3h0M921.0 720.7h0M983.5 720.4h0M957.3 676.5h0M959.4 777.7h0M966.7 720.2h0M953.4 779.0h0M966.8 687.2h0M924.3 756.4h0M984.8 659.4h0M1017.2 706.5h0M989.4 738.2h0M925.9 765.6h0M1015.0 658.0h0M1050.8 675.3h0M962.8 770.6h0M996.2 673.7h0M973.6 736.4h0M913.9 728.7h0M1029.6 761.3h0M1005.2 754.9h0M970.9 680.6h0M1056.7 683.5h0M946.2 753.7h0M916.0 731.0h0M1019.6 755.2h0M1056.4 651.7h0M1041.4 654.9h0M1034.1 691.2h0M998.8 727.1h0M1030.7 735.1h0M984.1 638.1h0M986.9 737.8h0M997.2 634.4h0M1057.2 709.5h0M982.0 710.8h0M975.5 729.1h0M949.9 747.5h0M1021.7 747.7h0M994.9 718.6h0M1034.3 664.7h0M951.1 692.5h0M910.5 715.5h0M919.5 748.4h0M973.1 658.2h0M988.3 683.8h0M975.3 757.8h0M1036.3 738.0h0M1010.1 758.0h0M973.5 641.7h0M981.1 727.6h0M982.8 747.9h0M980.1 657.3h0M917.9 758.3h0M956.9 751.8h0M1015.6 723.8h0M1001.0 629.1h0M1037.4 664.7h0M964.2 667.5h0M1049.7 712.4h0M968.2 761.8h0M999.9 632.2h0M1006.5 665.9h0M1030.6 707.9h0M1017.7 637.1h0M940.5 774.6h0M990.5 681.9h0M898.0 711.1h0M1045.8 685.8h0M1015.3 758.6h0M1004.8 735.0h0M944.3 785.8h0M957.9 714.9h0M972.9 700.9h0M1028.6 712.6h0M976.4 713.1h0M984.0 653.0h0M947.2 744.8h0M951.6 703.6h0M1004.2 705.8h0M912.5 764.2h0M930.3 721.9h0M1038.3 734.1h0M999.8 765.0h0M944.8 780.2h0M1000.4 639.0h0M970.2 763.1h0M992.8 713.7h0M978.1 690.6h0M920.2 778.7h0M955.3 776.4h0M951.4 709.2h0M1008.2 732.9h0M952.9 694.1h0M985.3 778.7h0M1015.0 736.7h0M995.9 711.4h0M979.5 665.9h0M941.8 723.0h0M942.4 738.1h0M1018.2 723.5h0M912.8 766.9h0M1024.7 749.7h0M969.6 719.3h0M1009.2 710.2h0M976.3 635.1h0M1019.1 710.0h0M989.8 702.6h0M998.1 644.0h0M930.5 779.6h0M944.7 716.0h0M996.9 698.4h0M998.4 732.5h0M1048.6 647.9h0M944.1 741.4h0M937.6 765.4h0M1002.9 772.5h0M909.2 717.8h0M1036.0 716.5h0M986.0 720.5h0M957.0 723.5h0M1039.1 639.8h0M945.2 665.4h0M967.3 759.9h0M1036.4 641.5h0M972.2 721.8h0M1001.2 623.5h0M994.3 745.7h0M1005.9 634.0h0M957.6 781.5h0M1009.1 739.3h0M978.7 677.3h0M931.3 757.2h0M958.3 730.6h0M1044.2 734.2h0M1028.7 694.3h0M1046.4 698.6h0M967.5 732.0h0M925.2 715.7h0M964.2 742.8h0M1009.8 695.0h0M1015.0 628.9h0M912.9 742.2h0M1023.0 676.7h0M929.5 787.5h0M1008.7 635.3h0M1023.4 702.4h0M923.2 725.3h0M954.2 733.7h0M1023.3 763.8h0M1003.1 670.1h0M948.6 767.6h0M1029.0 688.9h0M1051.9 655.9h0M1010.9 704.9h0M1062.8 688.1h0M1038.9 703.8h0M946.0 681.0h0M983.8 730.9h0M1024.5 707.2h0M922.8 719.2h0M1000.2 652.8h0M1020.4 757.0h0M1020.3 737.0h0M1021.2 644.5h0M1006.3 741.0h0M1018.3 677.6h0M941.9 711.8h0M937.5 722.1h0M952.1 666.4h0M1036.7 743.4h0M980.3 782.2h0M1027.2 683.4h0M931.0 718.8h0M984.6 665.7h0M1003.2 689.4h0M907.6 738.5h0M995.1 656.4h0M1040.8 689.1h0M1031.0 665.0h0M948.4 682.3h0M961.2 774.6h0M1032.5 676.2h0M1049.1 709.4h0M1036.5 679.8h0M960.1 744.4h0M964.2 753.6h0M988.1 767.0h0M1001.2 659.1h0M1001.5 703.7h0M979.2 714.0h0M945.2 683.2h0M977.5 724.2h0M979.9 733.2h0M973.2 759.8h0M963.3 684.0h0M935.7 758.0h0M1004.1 759.2h0M990.3 732.2h0M1006.2 648.0h0M996.4 688.8h0M1031.1 647.2h0M1013.9 686.8h0M925.0 718.2h0M1004.7 698.1h0M939.9 697.6h0M954.4 705.3h0M990.9 653.7h0M956.5 685.9h0M936.2 752.8h0M1039.8 746.8h0M992.7 699.6h0M1008.8 761.1h0M1031.7 746.0h0M1041.4 721.5h0M1026.7 692.6h0M986.9 711.3h0M915.3 756.5h0M948.9 713.7h0M1006.1 745.8h0M973.6 680.6h0M1012.7 700.3h0M1013.3 684.5h0M1026.7 708.3h0M954.6 727.0h0M971.2 768.4h0M985.6 693.5h0M1030.8 751.3h0M1004.9 725.6h0M959.3 681.8h0M1019.2 697.5h0M981.9 661.7h0M986.2 749.8h0M996.9 775.0h0M936.4 768.0h0M1044.0 702.1h0M1020.7 722.2h0M962.0 755.8h0M922.4 769.4h0M1024.6 751.8h0M985.1 701.6h0M1002.2 712.5h0M950.5 773.1h0M1007.1 689.6h0M908.8 713.3h0M1056.5 670.4h0M1000.4 749.8h0M931.0 749.0h0M941.9 752.9h0M986.9 685.6h0M1017.2 765.5h0M1019.8 670.1h0M986.2 679.5h0M953.6 690.9h0M936.8 776.2h0M942.1 758.2h0M954.6 689.1h0M1043.4 661.0h0M1025.5 688.3h0M960.6 706.6h0M1050.3 732.4h0M1017.6 694.2h0M916.1 777.4h0M990.0 770.0h0M1049.8 721.2h0M1000.7 769.9h0M1046.1 671.0h0M953.6 684.8h0M920.1 708.7h0M974.3 650.4h0M993.3 682.2h0M974.6 744.8h0M1035.3 686.3h0M972.8 738.9h0M921.9 752.6h0M1057.1 647.4h0M972.1 727.0h0M1031.0 697.5h0M987.1 672.3h0M1006.0 670.9h0M924.5 768.5h0M1057.2 665.6h0M974.1 703.3h0M922.8 750.5h0M991.6 642.8h0M925.3 732.5h0M929.0 745.5h0M1011.1 734.0h0M1009.1 685.1h0M971.7 746.7h0M1022.2 754.3h0M970.4 701.5h0M1029.0 745.1h0M949.6 728.0h0M993.9 702.2h0M955.9 694.5h0M1026.8 705.0h0M1054.7 668.2h0M993.6 625.7h0M1024.1 729.5h0M1005.3 707.9h0M993.0 724.6h0M1043.6 684.5h0M1017.7 631.5h0M940.2 703.0h0M949.9 719.9h0M994.4 765.1h0M992.6 777.9h0M989.7 755.7h0M966.1 695.8h0M990.7 678.1h0M940.8 743.7h0M1052.3 661.6h0M1046.7 728.9h0M1040.8 645.9h0M1036.2 647.9h0M962.2 749.4h0M992.9 722.5h0M991.1 729.8h0M1043.2 671.2h0M1015.5 680.9h0M1017.2 661.4h0M985.6 681.6h0M976.8 695.3h0M910.4 740.2h0M957.7 687.6h0M957.2 749.3h0M948.8 735.6h0M972.3 778.3h0M963.5 759.4h0M985.1 668.8h0M954.7 708.4h0M1028.8 751.0h0M942.5 715.4h0M922.7 727.5h0M933.1 707.5h0M998.5 748.8h0M1040.4 684.2h0M954.6 716.6h0M943.0 697.2h0M1013.1 752.2h0M1037.3 712.4h0M1039.1 717.0h0M1017.5 717.4h0M1010.6 639.9h0M994.8 679.7h0M1028.4 654.4h0M1020.4 695.3h0M957.3 705.3h0M1000.7 721.9h0M1038.9 672.5h0M1029.6 635.6h0M979.3 687.7h0M928.6 754.9h0M1065.1 679.9h0M940.5 733.4h0M1017.2 761.4h0M1025.9 744.7h0M1008.2 717.4h0M984.1 708.8h0M911.5 748.1h0M1044.3 740.7h0M1013.0 757.0h0M1017.3 674.8h0M1043.9 673.6h0M979.4 699.7h0M994.1 651.0h0M1006.4 703.4h0M1032.4 637.2h0M1033.3 655.0h0M988.3 692.4h0M1026.9 668.3h0M1062.6 658.6h0M900.2 725.3h0M1054.4 687.6h0M988.1 733.9h0M995.1 707.2h0M962.3 778.5h0M1029.7 730.9h0M960.6 691.4h0M990.7 645.8h0M1012.6 696.5h0M991.7 683.7h0M1006.6 761.5h0M986.5 632.6h0M921.1 725.8h0M1062.5 668.3h0M1012.4 726.2h0M976.5 733.3h0M1005.0 744.1h0M965.0 776.7h0M1011.8 717.8h0M938.5 728.4h0M1052.9 718.3h0M922.8 775.5h0M958.5 741.9h0M920.9 736.3h0M1056.4 657.4h0M971.7 715.3h0M952.0 713.0h0M912.5 679.0h0M927.0 684.2h0M937.5 667.5h0M947.0 661.2h0M962.0 644.5h0M910.8 542.2h0M907.0 548.2h0M905.8 551.2h0M904.5 554.2h0M902.5 557.5h0M900.5 560.8h0M898.8 564.5h0M897.5 567.5h0M896.2 570.8h0M895.8 574.5h0M895.0 579.2h0M897.5 587.5h0M627.8 652.1h0M600.9 668.1h0M621.8 645.4h0M630.2 674.5h0M603.9 672.0h0M605.0 686.3h0M593.2 667.6h0M600.2 692.1h0M612.4 678.5h0M642.7 707.7h0M616.0 693.9h0M637.2 669.5h0M640.5 659.0h0M632.4 670.6h0M598.2 662.4h0M645.6 666.2h0M611.0 654.0h0M606.8 664.4h0M607.4 694.4h0M605.7 681.3h0M633.8 669.1h0M625.2 706.9h0M629.0 660.7h0M641.0 674.3h0M607.8 684.8h0M623.0 675.5h0M634.9 704.3h0M650.4 677.7h0M614.9 665.0h0M646.9 685.5h0M629.5 698.2h0M597.7 668.4h0M625.4 698.3h0M613.0 673.0h0M642.6 663.3h0M603.2 690.0h0M599.4 689.8h0M637.5 702.7h0M604.0 695.1h0M636.2 709.1h0M620.8 648.9h0M615.8 658.0h0M629.1 668.4h0M639.2 690.9h0M617.2 676.9h0M606.8 677.2h0M627.0 690.5h0M628.4 682.9h0M640.0 685.4h0M601.8 662.8h0M619.3 702.3h0M645.4 682.8h0M603.5 655.6h0M600.2 655.3h0M632.6 663.7h0M624.2 672.5h0M650.8 672.4h0M622.9 668.1h0M598.3 678.9h0M615.3 672.5h0M632.2 675.9h0M612.6 661.4h0M640.0 681.9h0M601.8 683.8h0M618.8 664.8h0M611.0 693.0h0M601.4 699.3h0M610.4 681.5h0M598.6 702.4h0M615.5 645.1h0M631.9 705.3h0M652.9 690.0h0M602.5 669.4h0M606.7 691.7h0M625.2 693.0h0M619.4 697.4h0M611.5 674.8h0M603.3 652.7h0M606.0 658.2h0M626.8 670.3h0M640.6 707.2h0M629.1 680.7h0M639.8 693.6h0M629.0 670.8h0M599.9 681.8h0M614.7 687.7h0M615.4 678.5h0M628.6 700.1h0M597.6 666.2h0M604.7 670.0h0M625.6 695.9h0M643.1 674.8h0M610.5 663.4h0M599.8 658.9h0M623.8 655.9h0M644.8 689.3h0M650.4 683.6h0M636.3 662.6h0M643.6 667.7h0M643.0 665.5h0M650.3 667.2h0M620.3 693.0h0M622.9 658.9h0M633.4 672.8h0M594.1 684.1h0M612.7 656.5h0M646.5 661.7h0M605.9 647.3h0M636.5 671.4h0M625.9 677.4h0M620.2 680.3h0M616.9 652.3h0M620.8 672.9h0M622.6 695.2h0M640.1 702.1h0M614.3 695.4h0M626.9 685.3h0M643.8 677.2h0M637.9 659.3h0M631.9 667.8h0M597.6 676.7h0M619.4 691.2h0M607.6 648.4h0M615.8 704.9h0M618.4 658.1h0M608.2 702.0h0M638.9 662.3h0M608.9 658.9h0M603.7 644.5h0M628.9 688.8h0M621.7 689.8h0M640.4 697.7h0M647.6 688.7h0M630.0 686.9h0M612.1 697.7h0M612.6 667.0h0M594.3 675.1h0M605.6 698.2h0M593.9 680.4h0M621.9 679.1h0M594.8 665.1h0M618.6 666.9h0M658.9 689.2h0M627.2 680.1h0M605.5 705.0h0M613.8 670.9h0M643.9 681.1h0M621.3 682.2h0M635.8 676.3h0M625.6 682.3h0M609.8 687.3h0M605.2 651.6h0M613.3 689.3h0M593.9 686.5h0M607.2 656.5h0M607.9 689.5h0M602.7 704.2h0M618.4 678.8h0M639.0 708.7h0M638.8 674.5h0M602.3 688.1h0M648.0 675.4h0M646.2 674.1h0M608.2 682.5h0M641.3 683.4h0M620.7 655.6h0M619.8 705.7h0M610.1 644.7h0M598.2 649.7h0M625.4 664.9h0M624.1 678.4h0M617.3 643.2h0M623.0 691.8h0M612.4 703.2h0M632.5 657.5h0M627.0 666.8h0M603.1 649.7h0M622.0 686.3h0M601.3 644.4h0M617.9 674.4h0M627.3 657.8h0M644.5 685.9h0M622.6 698.9h0M597.5 685.3h0M598.9 700.1h0M625.8 652.3h0M604.3 664.5h0M633.5 700.7h0M620.3 660.4h0M619.8 675.1h0M629.6 677.9h0M609.4 665.7h0M648.7 659.1h0M637.8 681.2h0M602.9 674.1h0M643.4 660.5h0M647.3 657.4h0M600.3 664.4h0M601.7 693.9h0M623.4 705.5h0M614.6 675.1h0M636.7 657.0h0M638.3 677.3h0M618.3 646.4h0M601.2 679.4h0M610.7 676.9h0M650.1 691.8h0M638.6 667.6h0M644.5 706.7h0M633.1 697.2h0M605.4 702.9h0M611.1 652.0h0M605.3 666.8h0M627.5 673.7h0M617.5 681.3h0M653.6 683.1h0M656.1 685.9h0M630.1 654.7h0M620.3 670.6h0M623.5 651.9h0M662.9 697.8h0M668.8 703.1h0M660.5 696.7h0M670.5 712.9h0M677.3 737.4h0M668.1 697.9h0M660.4 701.1h0M671.5 705.2h0M665.2 697.5h0M669.7 720.8h0M668.7 700.3h0M679.1 711.2h0M678.7 723.2h0M675.3 710.6h0M677.2 709.5h0M673.8 707.9h0M665.3 700.4h0M670.3 718.7h0M672.2 709.7h0M675.4 728.1h0M677.5 717.9h0M671.7 728.7h0M674.5 732.7h0M678.4 729.3h0M674.7 717.0h0M675.3 712.8h0M675.0 734.7h0M674.2 705.6h0M650.5 706.5h0M652.0 711.0h0M657.0 705.5h0M658.5 713.0h0M665.0 716.0h0M596.0 719.3h0M596.0 722.0h0M725.3 722.5h0M729.3 718.5h0M732.0 722.0h0M736.0 717.5h0M733.3 719.3h0M586.7 738.8h0M584.8 742.0h0M581.9 746.0h0M578.1 753.2h0M577.3 756.7h0M572.0 758.5h0M572.5 773.1h0M546.7 775.2h0M569.6 775.7h0M570.8 782.2h0M546.5 779.5h0M554.2 772.7h0M563.4 779.8h0M548.7 767.4h0M546.9 765.7h0M540.6 770.0h0M567.3 773.8h0M545.3 768.4h0M572.9 775.6h0M575.2 776.1h0M566.3 769.0h0M556.4 780.3h0M572.0 768.0h0M561.2 773.7h0M556.1 763.0h0M547.8 781.5h0M573.9 771.0h0M551.2 764.1h0M582.5 774.0h0M576.6 765.1h0M579.3 776.4h0M562.9 777.3h0M579.4 769.9h0M562.6 766.7h0M543.6 777.5h0M556.8 775.6h0M543.3 763.1h0M566.1 772.1h0M551.4 767.3h0M573.2 779.9h0M547.3 777.5h0M577.9 777.9h0M579.8 767.3h0M557.5 767.0h0M541.1 775.2h0M551.0 776.2h0M569.3 770.7h0M573.4 777.7h0M576.4 769.0h0M556.7 773.2h0M551.7 773.3h0M571.6 770.9h0M582.4 769.6h0M550.4 780.8h0M570.0 779.2h0M564.3 782.2h0M554.2 779.2h0M566.3 778.3h0M543.8 766.5h0M565.4 784.0h0M555.7 768.3h0M567.5 775.9h0M553.4 777.3h0M571.2 766.1h0M544.0 771.0h0M541.4 764.9h0M548.6 774.0h0M551.0 778.7h0M565.4 780.2h0M552.3 769.5h0M572.8 763.7h0M543.9 774.1h0M556.8 784.0h0M567.8 782.7h0M553.7 764.2h0M556.0 770.6h0M568.5 768.5h0M563.7 768.5h0M561.3 769.9h0M562.9 771.4h0M540.1 767.3h0M539.8 773.0h0M558.4 769.1h0M560.1 765.7h0M549.2 762.2h0M552.3 793.5h0M600.8 778.0h0M612.8 778.0h0M609.3 782.0h0M610.7 785.2h0M749.3 792.1h0M753.3 792.7h0M748.0 796.7h0M745.3 800.1h0M792.0 785.2h0M796.0 784.7h0M800.0 782.0h0M808.0 779.3h0M810.7 777.2h0M802.1 790.0h0M802.7 792.7h0M806.7 794.8h0M808.0 797.5h0M811.5 796.4h0M800.0 786.0h0M809.3 783.3h0M804.0 787.3h0M703.4 857.4h0M717.3 861.7h0M725.0 844.6h0M694.8 852.0h0M720.3 856.5h0M739.1 843.0h0M709.4 847.7h0M723.2 848.2h0M719.5 847.4h0M744.7 843.0h0M735.5 850.0h0M703.4 850.4h0M739.4 853.0h0M703.7 844.3h0M733.2 850.7h0M715.9 843.3h0M733.5 853.3h0M742.1 849.5h0M708.5 841.6h0M701.1 844.4h0M707.2 847.2h0M736.9 857.7h0M707.9 861.1h0M730.6 851.6h0M698.7 853.6h0M730.7 841.5h0M726.3 858.9h0M737.3 843.9h0M703.3 846.3h0M731.4 854.9h0M714.9 852.6h0M715.2 839.6h0M702.8 842.0h0M699.9 856.9h0M726.9 848.0h0M725.1 849.9h0M738.7 847.4h0M733.2 856.3h0M728.9 858.7h0M705.4 858.8h0M724.9 841.0h0M728.1 845.4h0M692.8 848.7h0M710.3 843.5h0M721.8 861.2h0M721.9 851.2h0M719.6 850.7h0M724.6 860.9h0M738.2 851.2h0M706.3 842.5h0M728.2 851.9h0M718.7 855.3h0M695.6 845.1h0M735.6 852.2h0M709.6 858.4h0M720.9 854.2h0M721.4 843.1h0M698.9 851.3h0M711.4 854.5h0M716.6 854.4h0M716.6 858.2h0M690.8 850.0h0M742.0 844.3h0M707.6 849.5h0M735.8 855.7h0M730.6 857.2h0M714.6 849.3h0M734.6 858.4h0M707.3 856.9h0M715.2 860.2h0M713.8 862.7h0M723.0 859.5h0M711.3 845.8h0M734.9 844.8h0M716.5 847.9h0M713.0 858.4h0M723.9 857.2h0M733.2 843.7h0M708.6 851.9h0M696.3 848.1h0M695.3 856.3h0M705.9 851.4h0M728.1 840.5h0M714.0 845.4h0M722.5 841.0h0M711.0 856.5h0M713.8 856.2h0M741.5 852.2h0M702.1 852.4h0M736.3 847.5h0M731.7 845.5h0M711.8 840.1h0M726.0 854.5h0M709.2 854.2h0M736.3 841.9h0M712.1 850.2h0M701.4 850.0h0M717.6 840.3h0M713.5 841.9h0M742.3 846.8h0M740.3 857.3h0M730.6 849.4h0M733.8 847.4h0M697.7 846.0h0M732.5 860.1h0M705.8 844.5h0M728.7 843.2h0M704.8 830.0h0M709.3 831.3h0M709.3 837.5h0M604.0 844.1h0M610.7 840.7h0M612.0 842.5h0M608.0 846.5h0M610.7 850.8h0M612.8 858.0h0M614.7 861.5h0M616.5 866.8h0M619.2 872.1h0M620.8 875.9h0M622.7 879.3h0M604.0 844.0h0M607.0 841.6h0M611.5 840.4h0M610.0 846.4h0M610.9 850.9h0M613.0 858.4h0M615.4 862.9h0M616.6 866.5h0M619.0 872.5h0M620.5 876.4h0M622.6 880.0h0M624.4 883.6h0M626.5 887.5h0M623.5 892.6h0M629.5 892.0h0M632.5 896.5h0M628.0 907.0h0M638.5 907.0h0M639.1 911.5h0M638.5 916.0h0M635.5 919.6h0M631.0 922.0h0M626.5 919.0h0M625.6 925.6h0M629.5 925.6h0M632.5 924.1h0M613.6 910.3h0M634.0 911.5h0M632.5 916.0h0M629.5 917.5h0M635.5 910.0h0M646.0 916.6h0M649.0 914.8h0M651.1 913.6h0M662.5 918.1h0M682.6 925.9h0M687.1 928.0h0M726.4 938.5h0M727.0 941.5h0M722.5 937.0h0M712.0 949.0h0M714.4 952.0h0M716.5 950.5h0M718.0 944.5h0M709.0 936.4h0M719.5 939.4h0M655.0 979.6h0M656.5 982.0h0M658.6 983.5h0M660.4 984.4h0M517.9 967.6h0M519.1 971.5h0M520.0 975.4h0M521.5 979.0h0M520.6 983.5h0M521.5 987.4h0M520.9 991.0h0M522.4 994.6h0M527.5 984.1h0M529.0 988.0h0M532.0 991.0h0M534.1 992.5h0M533.5 997.0h0M532.0 1001.5h0M535.6 1003.6h0M530.5 1006.0h0M527.5 1009.0h0M523.0 1008.4h0M520.0 1012.0h0M524.5 1013.5h0M529.0 1015.0h0M518.5 1016.5h0M516.4 1018.9h0M521.5 1018.0h0M526.0 1016.5h0M530.5 1012.0h0M533.5 1007.5h0M526.0 1000.0h0M528.4 1004.5h0M524.5 997.0h0M508.9 922.6h0M511.6 935.2h0M479.5 1029.1h0M436.5 1045.6h0M437.3 1045.3h0M439.4 1043.6h0M440.8 1043.1h0M442.4 1041.3h0M443.4 1040.3h0M521.9 1004.9h0M527.2 996.0h0M517.1 970.6h0M530.5 990.8h0M524.4 989.1h0M533.1 994.0h0M527.3 1017.8h0M530.6 993.6h0M521.8 1008.0h0M517.1 1013.5h0M526.8 1003.8h0M520.3 980.9h0M532.4 1004.2h0M526.9 991.9h0M535.9 1003.6h0M518.9 976.6h0M521.7 990.0h0M528.9 1015.5h0M525.9 986.1h0M522.1 1014.1h0M527.9 994.1h0M525.6 1015.2h0M522.4 984.7h0M532.9 1012.5h0M520.7 1018.9h0M526.5 1001.6h0M530.5 1011.3h0M517.5 974.9h0M525.8 994.2h0M518.9 1007.3h0M521.3 993.3h0M520.9 1011.6h0M519.3 973.3h0M528.3 1008.6h0M531.2 998.2h0M519.7 982.9h0M514.8 1017.3h0M521.5 1017.0h0M518.6 967.7h0M523.7 1010.4h0M528.9 1002.6h0M526.3 1010.3h0M519.5 987.7h0M521.6 977.2h0M518.4 1019.4h0M520.1 995.1h0M529.7 1006.0h0M523.7 1016.4h0M533.3 1007.5h0M523.0 992.1h0M532.5 1001.9h0M525.4 1012.4h0M529.1 1000.4h0M527.5 984.8h0M640.3 908.0h0M638.3 914.6h0M630.9 903.0h0M625.3 923.0h0M637.5 919.4h0M631.8 900.1h0M632.7 894.5h0M632.2 906.4h0M627.6 925.4h0M634.8 921.2h0M630.9 915.0h0M636.3 899.9h0M634.4 898.7h0M634.1 907.4h0M634.4 912.6h0M629.9 894.0h0M627.1 896.3h0M628.0 899.4h0M634.0 903.8h0M637.3 911.1h0M638.9 904.2h0M631.2 890.9h0M637.4 902.2h0M630.2 898.1h0M630.2 896.1h0M628.4 920.0h0M630.4 919.3h0M633.7 917.6h0M625.0 926.2h0M633.2 923.1h0M633.3 914.9h0M636.3 914.3h0M757.9 564.3h0M755.9 554.6h0M741.0 547.4h0M738.0 545.4h0M748.2 556.7h0M746.4 539.7h0M759.3 556.6h0M757.1 560.2h0M744.6 553.0h0M751.2 551.4h0M741.1 532.9h0M739.4 540.4h0M759.1 562.0h0M754.2 558.4h0M740.4 554.6h0M744.1 547.7h0M762.5 563.3h0M746.6 544.1h0M744.4 560.9h0M747.4 563.2h0M754.8 551.4h0M738.9 530.2h0M756.6 548.1h0M750.7 548.0h0M738.3 542.7h0M752.1 560.5h0M753.5 555.2h0M747.8 546.0h0M743.6 556.3h0M746.4 555.7h0M749.8 562.1h0M740.0 552.4h0M754.0 561.7h0M750.6 563.9h0M751.0 558.0h0M747.5 549.2h0M741.0 537.4h0M757.4 557.9h0M747.7 541.2h0M753.4 544.4h0M749.8 559.8h0M761.5 560.6h0M759.5 553.8h0M752.7 547.6h0M742.8 551.8h0M746.6 551.1h0M757.7 552.6h0M744.0 537.1h0M743.0 540.6h0M738.9 547.6h0M747.3 560.3h0M786.2 564.9h0M786.7 567.7h0M785.8 570.9h0M748.7 568.6h0M754.2 574.1h0M757.4 577.3h0" stroke="#d3d3d3" stroke-width="5.5" stroke-linecap="round" fill="none"/>
<path d="M205.0 500.5h0M186.7 505.3h0M191.3 506.2h0M184.2 507.8h0M197.5 508.8h0M201.7 505.8h0M205.8 508.3h0M210.8 505.8h0M215.0 507.5h0M215.8 510.8h0M210.8 510.8h0M206.7 513.3h0M202.5 513.3h0M215.8 515.8h0M224.7 513.7h0M226.7 516.2h0M178.3 510.8h0M180.0 515.0h0M180.0 519.2h0M170.0 522.0h0M173.3 524.2h0M174.2 527.5h0M165.8 527.5h0M169.2 530.0h0M165.0 531.7h0M165.0 535.8h0M168.3 535.0h0M171.7 533.3h0M175.8 531.7h0M178.3 530.0h0M182.5 526.7h0M188.3 525.8h0M193.3 527.5h0M194.2 531.7h0M190.0 532.5h0M185.8 531.7h0M181.7 533.3h0M177.5 535.0h0M173.3 537.5h0M169.2 538.3h0M165.0 539.2h0M161.7 541.7h0M159.2 539.2h0M154.2 542.0h0M150.8 545.3h0M175.0 541.3h0M180.0 542.2h0M184.2 540.0h0M188.3 538.3h0M191.7 541.7h0M195.8 540.8h0M198.3 537.5h0M200.8 535.0h0M185.8 545.8h0M200.0 520.3h0M206.2 521.3h0M212.5 524.7h0M210.8 527.5h0M208.3 531.7h0M206.7 533.3h0M220.5 525.3h0M219.2 531.3h0M228.3 528.7h0M236.3 531.3h0M235.0 537.2h0M215.8 537.5h0M228.8 541.2h0M205.8 542.5h0M208.3 546.7h0M210.0 550.0h0M217.5 548.3h0M220.8 548.3h0M225.8 548.8h0M229.2 550.0h0M233.3 552.5h0M236.7 550.8h0M235.8 546.7h0M217.5 555.3h0M194.5 551.3h0M184.5 554.7h0M173.3 556.3h0M163.7 557.2h0M160.0 551.2h0M155.8 555.0h0M152.5 558.3h0M148.0 553.7h0M153.3 553.3h0M165.8 548.3h0M170.0 548.3h0M174.2 548.3h0M177.8 548.3h0M179.2 565.0h0M185.0 562.8h0M187.8 568.7h0M220.8 563.3h0M216.7 571.3h0M223.3 570.0h0M224.7 574.2h0M219.7 577.7h0M230.8 575.8h0M236.7 503.0h0M252.5 491.3h0M257.5 489.2h0M258.3 495.5h0M237.2 513.8h0M375.1 725.6h0M374.0 735.8h0M350.6 732.1h0M342.6 730.3h0M335.0 728.2h0M332.8 731.4h0M325.2 732.5h0M324.2 735.8h0M319.4 741.2h0M333.9 738.6h0M337.2 739.4h0M343.7 735.8h0M343.2 746.1h0M330.7 747.7h0M329.6 752.4h0M318.1 758.9h0M354.9 743.3h0M356.7 747.2h0M374.6 747.7h0M376.6 755.7h0M348.0 754.2h0M346.3 758.5h0M362.1 758.1h0M362.1 761.1h0M368.6 762.8h0M364.7 765.6h0M325.9 762.8h0M329.6 767.2h0M331.8 769.8h0M373.6 774.8h0M337.2 773.7h0M335.0 776.9h0M328.5 773.7h0M356.7 777.6h0M352.3 779.1h0M346.9 780.6h0M342.6 781.9h0M341.5 784.9h0M346.9 786.7h0M345.8 788.8h0M340.4 792.1h0M337.2 794.7h0M332.8 793.6h0M330.7 786.7h0M321.4 796.4h0M335.0 800.8h0M325.2 804.6h0M308.6 805.1h0M312.2 807.2h0M300.3 806.6h0M306.8 784.5h0M363.6 783.0h0M367.1 779.7h0M371.4 781.7h0M379.4 784.5h0M353.4 790.6h0M358.8 787.8h0M358.8 793.2h0M354.5 795.3h0M351.2 797.1h0M350.2 793.2h0M374.0 792.1h0M377.2 795.3h0M362.1 803.6h0M350.2 806.2h0M353.4 806.2h0M383.8 798.6h0M384.8 803.6h0M387.0 806.2h0M375.7 806.6h0M376.2 810.5h0M386.4 813.1h0M392.4 793.2h0M394.6 789.9h0M400.0 789.9h0M400.6 785.1h0M396.3 799.2h0M408.7 806.2h0M398.5 812.2h0M314.4 812.2h0M317.7 814.4h0M320.9 814.4h0M318.8 818.7h0M320.9 822.4h0M298.2 818.1h0M296.0 823.5h0M305.8 823.1h0M335.0 813.1h0M337.6 815.5h0M339.8 822.4h0M344.8 823.5h0M344.8 827.8h0M329.6 823.9h0M327.4 827.2h0M354.5 814.8h0M358.8 815.3h0M362.1 817.0h0M365.3 814.8h0M368.6 813.8h0M356.7 819.2h0M353.4 820.2h0M363.6 823.5h0M366.9 819.2h0M378.3 817.0h0M380.9 819.2h0M378.3 825.0h0M382.7 824.6h0M385.3 824.6h0M395.0 822.4h0M395.7 825.2h0M401.1 824.1h0M353.4 826.8h0M357.8 829.6h0M359.9 832.2h0M353.0 834.3h0M355.6 836.9h0M368.6 830.0h0M371.8 830.0h0M374.0 833.2h0M380.1 829.6h0M382.7 832.2h0M386.6 832.2h0M381.6 836.5h0M383.8 840.8h0M387.0 838.7h0M393.5 838.7h0M401.1 830.0h0M404.3 832.2h0M402.2 837.6h0M405.4 835.4h0M417.3 834.3h0M416.2 825.2h0M427.7 824.6h0M432.9 826.3h0M431.4 830.6h0M437.9 831.7h0M438.6 833.9h0M453.1 847.8h0M458.5 845.2h0M471.5 852.8h0M474.8 853.4h0M465.6 866.2h0M494.2 874.4h0M313.3 833.9h0M316.6 835.4h0M319.8 840.8h0M322.0 843.0h0M320.9 848.4h0M309.0 843.0h0M306.8 845.6h0M328.5 835.4h0M328.5 838.7h0M335.0 843.0h0M338.2 840.8h0M340.0 834.3h0M332.8 845.6h0M328.5 849.5h0M331.8 850.6h0M330.7 855.6h0M350.2 844.7h0M362.7 846.2h0M362.1 853.8h0M382.0 853.4h0M342.6 857.7h0M349.1 863.6h0M332.8 867.3h0M299.2 850.6h0M304.7 854.3h0M307.9 856.0h0M308.6 861.4h0M315.5 855.6h0M317.7 854.9h0M320.9 855.6h0M315.1 861.4h0M316.6 858.2h0M781.2 210.9h0M792.7 219.4h0M795.5 225.8h0M812.3 224.7h0M692.1 121.6h0M828.7 282.4h0M838.8 289.1h0M835.0 293.8h0M831.2 298.9h0M820.5 290.6h0M812.9 292.2h0M802.1 289.4h0M800.5 320.7h0M559.5 230.8h0M742.9 276.7h0M393.5 395.2h0M410.8 395.2h0M383.2 403.2h0M386.8 411.8h0M422.8 417.2h0M451.5 413.8h0M415.2 441.8h0M466.5 470.5h0M522.0 458.0h0M497.0 501.5h0M481.2 513.0h0M498.0 522.5h0M510.0 522.0h0M427.5 576.2h0M501.2 577.5h0M593.8 387.5h0M598.8 386.2h0M602.5 383.8h0M606.2 387.5h0M596.0 395.5h0M603.2 399.5h0M619.2 400.8h0M617.5 405.8h0M608.8 407.0h0M611.2 405.8h0M609.5 416.0h0M610.8 429.2h0M613.2 428.2h0M589.8 434.0h0M669.2 430.8h0M699.2 441.2h0M699.2 446.2h0M710.5 436.8h0M714.5 442.0h0M726.2 449.0h0M685.2 461.5h0M744.2 536.0h0M746.8 547.5h0M741.8 553.8h0M741.8 556.8h0M753.8 555.2h0M767.0 583.5h0M552.8 789.5h0M805.3 783.9h0M707.5 834.8h0M700.8 852.7h0M629.5 901.6h0M658.9 916.6h0M703.9 934.9h0M721.6 941.5h0M714.4 946.0h0M508.6 918.4h0" stroke="#9d7aee" stroke-width="5.5" stroke-linecap="round" fill="none"/>
<path d="M184.2 515.8h0M170.0 515.8h0M201.3 523.8h0M240.3 569.7h0M355.1 751.6h0M343.7 767.2h0M353.4 772.1h0M377.2 770.0h0M332.4 802.9h0M365.8 795.3h0M317.2 827.4h0M408.7 832.2h0M331.8 838.2h0M329.1 863.6h0M299.9 856.0h0M817.5 216.4h0M811.0 277.3h0M786.3 293.2h0M681.8 425.2h0M636.4 903.4h0M635.5 905.5h0M699.4 932.8h0M713.5 934.9h0M711.4 938.5h0" stroke="#6a42f6" stroke-width="5.5" stroke-linecap="round" fill="none"/>
<path d="M358.4 732.9h0M317.0 801.2h0M422.3 826.3h0M430.0 396.5h0M716.5 940.0h0" stroke="#1208fe" stroke-width="5.5" stroke-linecap="round" fill="none"/>
<!-- axes -->
<g stroke="#000" stroke-width="3" fill="none" stroke-linecap="butt">
<line x1="95.6" y1="50.8" x2="95.6" y2="1120.8"/>
<line x1="94.1" y1="1119.3" x2="1117.5" y2="1119.3"/>
</g>
<g stroke="#000" stroke-width="3" fill="none">
<line x1="141.4" y1="1119.3" x2="141.4" y2="1124.4"/>
<line x1="307.1" y1="1119.3" x2="307.1" y2="1124.4"/>
<line x1="472.8" y1="1119.3" x2="472.8" y2="1124.4"/>
<line x1="638.7" y1="1119.3" x2="638.7" y2="1124.4"/>
<line x1="804.4" y1="1119.3" x2="804.4" y2="1124.4"/>
<line x1="970.3" y1="1119.3" x2="970.3" y2="1124.4"/>
<line x1="90.2" y1="276.5" x2="95.6" y2="276.5"/>
<line x1="90.2" y1="571.3" x2="95.6" y2="571.3"/>
<line x1="90.2" y1="865.5" x2="95.6" y2="865.5"/>
</g>
<!-- tick labels -->
<g font-size="29.2">
<text transform="translate(141.9,1148.2) scale(1,1.05)" text-anchor="middle">-15</text>
<text transform="translate(307.4,1148.2) scale(1,1.05)" text-anchor="middle">-10</text>
<text transform="translate(471.5,1148.2) scale(1,1.05)" text-anchor="middle">-5</text>
<text transform="translate(638.7,1148.2) scale(1,1.05)" text-anchor="middle">0</text>
<text transform="translate(804.4,1148.2) scale(1,1.05)" text-anchor="middle">5</text>
<text transform="translate(970.6,1148.2) scale(1,1.05)" text-anchor="middle">10</text>
<text transform="translate(87.8,286.9) scale(1,1.06)" text-anchor="end">10</text>
<text transform="translate(87.8,581.7) scale(1,1.06)" text-anchor="end">0</text>
<text transform="translate(87.8,875.9) scale(1,1.06)" text-anchor="end">-10</text>
</g>
<!-- axis titles -->
<text transform="translate(604.5,1180) scale(1,1.05)" font-size="30" text-anchor="middle">umapNC_1</text>
<text transform="translate(34.3,585.8) rotate(-90) scale(1,1.07)" font-size="30" text-anchor="middle">umapNC_2</text>
<!-- title -->
<text transform="translate(606.3,37) scale(1,1.045)" font-size="34" font-weight="bold" text-anchor="middle">Ptger2</text>
<!-- legend -->
<rect x="1130.2" y="547.7" width="15.3" height="75.9" fill="url(#cb)"/>
<g stroke="#ffffff" stroke-width="0.8" opacity="0.8">
<line x1="1130.2" y1="569.2" x2="1133.2" y2="569.2"/><line x1="1142.5" y1="569.2" x2="1145.5" y2="569.2"/>
<line x1="1130.2" y1="596.4" x2="1133.2" y2="596.4"/><line x1="1142.5" y1="596.4" x2="1145.5" y2="596.4"/>
<line x1="1130.2" y1="623.4" x2="1133.2" y2="623.4"/><line x1="1142.5" y1="623.4" x2="1145.5" y2="623.4"/>
</g>
<g font-size="23.8">
<text transform="translate(1154.2,578.7) scale(1,1.06)">1.0</text>
<text transform="translate(1154.2,605.9) scale(1,1.06)">0.5</text>
<text transform="translate(1154.2,633.2) scale(1,1.06)">0.0</text>
</g>
</svg>
</body>
</html>
